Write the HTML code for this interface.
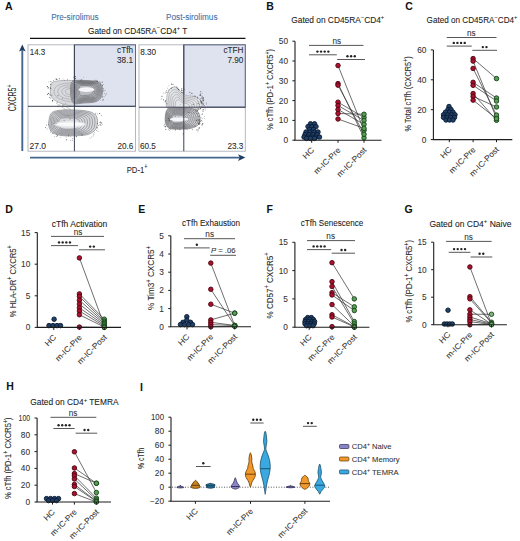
<!DOCTYPE html>
<html><head><meta charset="utf-8"><title>Figure</title>
<style>html,body{margin:0;padding:0;background:#fff;width:520px;height:541px;overflow:hidden;font-family:"Liberation Sans",sans-serif;}</style>
</head><body>
<svg width="520" height="541" viewBox="0 0 520 541" style="position:absolute;left:0;top:0">
<rect width="520" height="541" fill="#ffffff"/>
<g font-family='"Liberation Sans", sans-serif'>
<text x="5.00" y="9.80" font-size="10.5" text-anchor="start" font-weight="bold" fill="#111" stroke="#111" stroke-width="0" >A</text>
<text x="51.20" y="19.90" font-size="8.4" text-anchor="start" font-weight="normal" fill="#4470a8" stroke="#4470a8" stroke-width="0.08" textLength="47.5" lengthAdjust="spacingAndGlyphs" >Pre-sirolimus</text>
<text x="166.00" y="19.90" font-size="8.4" text-anchor="start" font-weight="normal" fill="#4470a8" stroke="#4470a8" stroke-width="0.08" textLength="51.5" lengthAdjust="spacingAndGlyphs" >Post-sirolimus</text>
<text x="88.00" y="33.50" font-size="8.6" text-anchor="start" font-weight="normal" fill="#222" stroke="#222" stroke-width="0.08" textLength="99.3" lengthAdjust="spacingAndGlyphs" >Gated on CD45RA<tspan font-size="6.02" dy="-3.27">−</tspan><tspan dy="3.27">CD4</tspan><tspan font-size="6.02" dy="-3.27">+</tspan><tspan dy="3.27"> T</tspan></text>
<line x1="30.00" y1="38.40" x2="245.50" y2="38.40" stroke="#111" stroke-width="1.2" />
<rect x="74.4" y="44.8" width="61.099999999999994" height="61.5" fill="#dfe3ef"/>
<rect x="28" y="44.8" width="107.5" height="106.39999999999999" fill="none" stroke="#aeb1b8" stroke-width="0.9"/>
<rect x="74.4" y="44.8" width="61.099999999999994" height="61.5" fill="none" stroke="#5a6a86" stroke-width="1.0"/>
<rect x="183.8" y="44.8" width="61.5" height="62.400000000000006" fill="#dfe3ef"/>
<rect x="139" y="44.8" width="106.30000000000001" height="106.39999999999999" fill="none" stroke="#aeb1b8" stroke-width="0.9"/>
<rect x="183.8" y="44.8" width="61.5" height="62.400000000000006" fill="none" stroke="#5a6a86" stroke-width="1.0"/>
<path d="M75 80.6 C66 80.2 57 80.4 53 82 C50 84.5 50 90 50.6 94 C51.5 99 56 101.5 62 103.8 C66 105.3 70 106 75 106 Z" fill="#d8d9dd" stroke="#7d7e83" stroke-width="0.5"/>
<path d="M75 82.9 C60.5 82.5 54.0 85.8 54.0 91.5 C54.0 98.1 62.2 101.3 75 102.2" fill="none" stroke="#8d8e93" stroke-width="0.45"/>
<path d="M75 84.8 C63.0 84.5 57.9 87.0 57.9 91.5 C57.9 96.6 64.3 99.2 75 99.8" fill="none" stroke="#8d8e93" stroke-width="0.45"/>
<path d="M75 86.7 C65.6 86.4 61.9 88.3 61.9 91.5 C61.9 95.2 66.5 97.0 75 97.5" fill="none" stroke="#8d8e93" stroke-width="0.45"/>
<path d="M75 88.3 C67.8 88.2 65.4 89.4 65.4 91.5 C65.4 93.9 68.4 95.1 75 95.4" fill="none" stroke="#8d8e93" stroke-width="0.45"/>
<path d="M73.00 81.00 C75.42 79.75 81.00 80.42 85.00 80.50 C89.00 80.58 94.25 80.75 97.00 81.50 C99.75 82.25 100.53 83.42 101.50 85.00 C102.47 86.58 102.92 88.83 102.80 91.00 C102.68 93.17 102.10 96.17 100.80 98.00 C99.50 99.83 97.80 101.17 95.00 102.00 C92.20 102.83 87.50 102.75 84.00 103.00 C80.50 103.25 76.17 104.50 74.00 103.50 C71.83 102.50 71.58 99.58 71.00 97.00 C70.42 94.42 70.17 90.67 70.50 88.00 C70.83 85.33 70.58 82.25 73.00 81.00 Z" fill="#bcbdc2" stroke="none"/>
<path d="M73.00 81.00 C75.42 79.75 81.00 80.42 85.00 80.50 C89.00 80.58 94.25 80.75 97.00 81.50 C99.75 82.25 100.53 83.42 101.50 85.00 C102.47 86.58 102.92 88.83 102.80 91.00 C102.68 93.17 102.10 96.17 100.80 98.00 C99.50 99.83 97.80 101.17 95.00 102.00 C92.20 102.83 87.50 102.75 84.00 103.00 C80.50 103.25 76.17 104.50 74.00 103.50 C71.83 102.50 71.58 99.58 71.00 97.00 C70.42 94.42 70.17 90.67 70.50 88.00 C70.83 85.33 70.58 82.25 73.00 81.00 Z" fill="none" stroke="#4a4b50" stroke-width="0.45"/>
<path d="M73.91 81.59 C76.16 80.43 81.35 81.05 85.07 81.13 C88.79 81.21 93.67 81.36 96.23 82.06 C98.79 82.76 99.52 83.84 100.42 85.31 C101.31 86.79 101.73 88.88 101.62 90.89 C101.52 92.91 100.97 95.70 99.76 97.41 C98.55 99.11 96.97 100.35 94.37 101.12 C91.77 101.90 87.39 101.82 84.14 102.06 C80.89 102.29 76.86 103.45 74.84 102.52 C72.83 101.59 72.59 98.88 72.05 96.47 C71.51 94.07 71.27 90.59 71.58 88.11 C71.89 85.62 71.66 82.76 73.91 81.59 Z" fill="none" stroke="#4a4b50" stroke-width="0.45"/>
<path d="M74.82 82.19 C76.90 81.11 81.70 81.69 85.14 81.76 C88.58 81.83 93.09 81.98 95.46 82.62 C97.82 83.27 98.50 84.27 99.33 85.63 C100.16 86.99 100.55 88.93 100.45 90.79 C100.35 92.65 99.85 95.23 98.73 96.81 C97.61 98.39 96.15 99.53 93.74 100.25 C91.33 100.97 87.29 100.89 84.28 101.11 C81.27 101.33 77.54 102.40 75.68 101.54 C73.82 100.68 73.60 98.17 73.10 95.95 C72.60 93.73 72.38 90.50 72.67 88.21 C72.96 85.92 72.74 83.27 74.82 82.19 Z" fill="none" stroke="#4a4b50" stroke-width="0.45"/>
<path d="M75.60 82.70 C77.53 81.70 82.00 82.23 85.20 82.30 C88.40 82.37 92.60 82.50 94.80 83.10 C97.00 83.70 97.63 84.63 98.40 85.90 C99.17 87.17 99.53 88.97 99.44 90.70 C99.35 92.43 98.88 94.83 97.84 96.30 C96.80 97.77 95.44 98.83 93.20 99.50 C90.96 100.17 87.20 100.10 84.40 100.30 C81.60 100.50 78.13 101.50 76.40 100.70 C74.67 99.90 74.47 97.57 74.00 95.50 C73.53 93.43 73.33 90.43 73.60 88.30 C73.87 86.17 73.67 83.70 75.60 82.70 Z" fill="none" stroke="#4a4b50" stroke-width="0.45"/>
<path d="M76.38 83.21 C78.17 82.28 82.30 82.78 85.26 82.84 C88.22 82.90 92.11 83.03 94.14 83.58 C96.17 84.13 96.75 85.00 97.47 86.17 C98.19 87.34 98.52 89.01 98.43 90.61 C98.35 92.21 97.91 94.43 96.95 95.79 C95.99 97.15 94.73 98.13 92.66 98.75 C90.59 99.37 87.11 99.30 84.52 99.49 C81.93 99.67 78.72 100.60 77.12 99.86 C75.52 99.12 75.33 96.96 74.90 95.05 C74.47 93.14 74.28 90.36 74.53 88.39 C74.78 86.42 74.59 84.13 76.38 83.21 Z" fill="none" stroke="#4a4b50" stroke-width="0.45"/>
<path d="M77.16 83.72 C78.80 82.87 82.60 83.32 85.32 83.38 C88.04 83.44 91.61 83.55 93.48 84.06 C95.35 84.57 95.88 85.36 96.54 86.44 C97.20 87.52 97.50 89.05 97.42 90.52 C97.34 91.99 96.95 94.03 96.06 95.28 C95.18 96.53 94.02 97.43 92.12 98.00 C90.22 98.57 87.02 98.51 84.64 98.68 C82.26 98.85 79.31 99.70 77.84 99.02 C76.37 98.34 76.20 96.36 75.80 94.60 C75.40 92.84 75.23 90.29 75.46 88.48 C75.69 86.67 75.52 84.57 77.16 83.72 Z" fill="none" stroke="#4a4b50" stroke-width="0.45"/>
<path d="M78.07 84.31 C79.54 83.55 82.95 83.96 85.39 84.01 C87.83 84.06 91.03 84.16 92.71 84.62 C94.39 85.08 94.87 85.79 95.45 86.75 C96.04 87.72 96.32 89.09 96.25 90.42 C96.18 91.74 95.82 93.57 95.03 94.69 C94.23 95.80 93.20 96.62 91.49 97.12 C89.78 97.63 86.91 97.58 84.78 97.73 C82.65 97.89 80.00 98.65 78.68 98.04 C77.36 97.43 77.21 95.65 76.85 94.08 C76.49 92.50 76.34 90.21 76.55 88.58 C76.75 86.96 76.60 85.08 78.07 84.31 Z" fill="none" stroke="#4a4b50" stroke-width="0.45"/>
<path d="M79.11 85.00 C80.39 84.33 83.35 84.69 85.47 84.73 C87.59 84.77 90.37 84.86 91.83 85.26 C93.29 85.66 93.70 86.28 94.22 87.11 C94.73 87.95 94.97 89.15 94.90 90.30 C94.84 91.44 94.53 93.03 93.84 94.00 C93.16 94.98 92.25 95.68 90.77 96.12 C89.29 96.57 86.80 96.52 84.94 96.66 C83.08 96.79 80.79 97.45 79.64 96.92 C78.49 96.39 78.36 94.84 78.05 93.47 C77.74 92.11 77.61 90.12 77.78 88.70 C77.96 87.29 77.83 85.66 79.11 85.00 Z" fill="none" stroke="#4a4b50" stroke-width="0.45"/>
<path d="M80.28 85.76 C81.34 85.21 83.80 85.50 85.56 85.54 C87.32 85.58 89.63 85.65 90.84 85.98 C92.05 86.31 92.39 86.82 92.82 87.52 C93.25 88.22 93.44 89.21 93.39 90.16 C93.34 91.11 93.08 92.43 92.51 93.24 C91.94 94.05 91.19 94.63 89.96 95.00 C88.73 95.37 86.66 95.33 85.12 95.44 C83.58 95.55 81.67 96.10 80.72 95.66 C79.77 95.22 79.66 93.94 79.40 92.80 C79.14 91.66 79.03 90.01 79.18 88.84 C79.33 87.67 79.22 86.31 80.28 85.76 Z" fill="none" stroke="#4a4b50" stroke-width="0.45"/>
<ellipse cx="86.5" cy="89.6" rx="8" ry="2.3" fill="#f6f6f8"/>
<path d="M49.00 120.00 C49.50 117.58 49.83 114.17 52.00 112.50 C54.17 110.83 58.00 110.42 62.00 110.00 C66.00 109.58 71.50 109.75 76.00 110.00 C80.50 110.25 85.67 110.58 89.00 111.50 C92.33 112.42 94.58 113.67 96.00 115.50 C97.42 117.33 97.58 120.17 97.50 122.50 C97.42 124.83 97.08 127.50 95.50 129.50 C93.92 131.50 91.42 133.45 88.00 134.50 C84.58 135.55 79.50 135.63 75.00 135.80 C70.50 135.97 64.75 136.05 61.00 135.50 C57.25 134.95 54.50 133.92 52.50 132.50 C50.50 131.08 49.58 129.08 49.00 127.00 C48.42 124.92 48.50 122.42 49.00 120.00 Z" fill="#d8d9dd" stroke="none"/>
<path d="M49.00 120.00 C49.50 117.58 49.83 114.17 52.00 112.50 C54.17 110.83 58.00 110.42 62.00 110.00 C66.00 109.58 71.50 109.75 76.00 110.00 C80.50 110.25 85.67 110.58 89.00 111.50 C92.33 112.42 94.58 113.67 96.00 115.50 C97.42 117.33 97.58 120.17 97.50 122.50 C97.42 124.83 97.08 127.50 95.50 129.50 C93.92 131.50 91.42 133.45 88.00 134.50 C84.58 135.55 79.50 135.63 75.00 135.80 C70.50 135.97 64.75 136.05 61.00 135.50 C57.25 134.95 54.50 133.92 52.50 132.50 C50.50 131.08 49.58 129.08 49.00 127.00 C48.42 124.92 48.50 122.42 49.00 120.00 Z" fill="none" stroke="#55565b" stroke-width="0.45"/>
<path d="M50.36 120.32 C50.82 118.10 51.13 114.95 53.12 113.42 C55.11 111.89 58.64 111.50 62.32 111.12 C66.00 110.74 71.06 110.89 75.20 111.12 C79.34 111.35 84.09 111.66 87.16 112.50 C90.23 113.34 92.30 114.49 93.60 116.18 C94.90 117.87 95.06 120.47 94.98 122.62 C94.90 124.77 94.60 127.22 93.14 129.06 C91.68 130.90 89.38 132.69 86.24 133.66 C83.10 134.63 78.42 134.70 74.28 134.86 C70.14 135.01 64.85 135.09 61.40 134.58 C57.95 134.07 55.42 133.12 53.58 131.82 C51.74 130.52 50.90 128.68 50.36 126.76 C49.82 124.84 49.90 122.54 50.36 120.32 Z" fill="none" stroke="#55565b" stroke-width="0.45"/>
<path d="M51.72 120.64 C52.14 118.61 52.42 115.74 54.24 114.34 C56.06 112.94 59.28 112.59 62.64 112.24 C66.00 111.89 70.62 112.03 74.40 112.24 C78.18 112.45 82.52 112.73 85.32 113.50 C88.12 114.27 90.01 115.32 91.20 116.86 C92.39 118.40 92.53 120.78 92.46 122.74 C92.39 124.70 92.11 126.94 90.78 128.62 C89.45 130.30 87.35 131.94 84.48 132.82 C81.61 133.70 77.34 133.77 73.56 133.91 C69.78 134.05 64.95 134.12 61.80 133.66 C58.65 133.20 56.34 132.33 54.66 131.14 C52.98 129.95 52.21 128.27 51.72 126.52 C51.23 124.77 51.30 122.67 51.72 120.64 Z" fill="none" stroke="#55565b" stroke-width="0.45"/>
<path d="M53.08 120.96 C53.46 119.12 53.71 116.53 55.36 115.26 C57.01 113.99 59.92 113.68 62.96 113.36 C66.00 113.04 70.18 113.17 73.60 113.36 C77.02 113.55 80.95 113.80 83.48 114.50 C86.01 115.20 87.72 116.15 88.80 117.54 C89.88 118.93 90.00 121.09 89.94 122.86 C89.88 124.63 89.62 126.66 88.42 128.18 C87.22 129.70 85.32 131.18 82.72 131.98 C80.12 132.78 76.26 132.84 72.84 132.97 C69.42 133.09 65.05 133.16 62.20 132.74 C59.35 132.32 57.26 131.54 55.74 130.46 C54.22 129.38 53.52 127.86 53.08 126.28 C52.64 124.70 52.70 122.80 53.08 120.96 Z" fill="none" stroke="#55565b" stroke-width="0.45"/>
<path d="M54.44 121.28 C54.78 119.64 55.01 117.31 56.48 116.18 C57.95 115.05 60.56 114.76 63.28 114.48 C66.00 114.20 69.74 114.31 72.80 114.48 C75.86 114.65 79.37 114.88 81.64 115.50 C83.91 116.12 85.44 116.97 86.40 118.22 C87.36 119.47 87.48 121.39 87.42 122.98 C87.36 124.57 87.14 126.38 86.06 127.74 C84.98 129.10 83.28 130.43 80.96 131.14 C78.64 131.85 75.18 131.91 72.12 132.02 C69.06 132.14 65.15 132.19 62.60 131.82 C60.05 131.45 58.18 130.74 56.82 129.78 C55.46 128.82 54.84 127.46 54.44 126.04 C54.04 124.62 54.10 122.92 54.44 121.28 Z" fill="none" stroke="#55565b" stroke-width="0.45"/>
<path d="M55.80 121.60 C56.10 120.15 56.30 118.10 57.60 117.10 C58.90 116.10 61.20 115.85 63.60 115.60 C66.00 115.35 69.30 115.45 72.00 115.60 C74.70 115.75 77.80 115.95 79.80 116.50 C81.80 117.05 83.15 117.80 84.00 118.90 C84.85 120.00 84.95 121.70 84.90 123.10 C84.85 124.50 84.65 126.10 83.70 127.30 C82.75 128.50 81.25 129.67 79.20 130.30 C77.15 130.93 74.10 130.98 71.40 131.08 C68.70 131.18 65.25 131.23 63.00 130.90 C60.75 130.57 59.10 129.95 57.90 129.10 C56.70 128.25 56.15 127.05 55.80 125.80 C55.45 124.55 55.50 123.05 55.80 121.60 Z" fill="none" stroke="#55565b" stroke-width="0.45"/>
<path d="M57.16 121.92 C57.42 120.66 57.59 118.89 58.72 118.02 C59.85 117.15 61.84 116.94 63.92 116.72 C66.00 116.50 68.86 116.59 71.20 116.72 C73.54 116.85 76.23 117.02 77.96 117.50 C79.69 117.98 80.86 118.63 81.60 119.58 C82.34 120.53 82.42 122.01 82.38 123.22 C82.34 124.43 82.16 125.82 81.34 126.86 C80.52 127.90 79.22 128.91 77.44 129.46 C75.66 130.01 73.02 130.05 70.68 130.14 C68.34 130.22 65.35 130.27 63.40 129.98 C61.45 129.69 60.02 129.16 58.98 128.42 C57.94 127.68 57.46 126.64 57.16 125.56 C56.86 124.48 56.90 123.18 57.16 121.92 Z" fill="none" stroke="#55565b" stroke-width="0.45"/>
<path d="M58.52 122.24 C58.74 121.18 58.89 119.67 59.84 118.94 C60.79 118.21 62.48 118.02 64.24 117.84 C66.00 117.66 68.42 117.73 70.40 117.84 C72.38 117.95 74.65 118.10 76.12 118.50 C77.59 118.90 78.58 119.45 79.20 120.26 C79.82 121.07 79.90 122.31 79.86 123.34 C79.82 124.37 79.68 125.54 78.98 126.42 C78.28 127.30 77.18 128.16 75.68 128.62 C74.18 129.08 71.94 129.12 69.96 129.19 C67.98 129.27 65.45 129.30 63.80 129.06 C62.15 128.82 60.94 128.36 60.06 127.74 C59.18 127.12 58.78 126.24 58.52 125.32 C58.26 124.40 58.30 123.30 58.52 122.24 Z" fill="none" stroke="#55565b" stroke-width="0.45"/>
<ellipse cx="70" cy="124.3" rx="16" ry="3.4" fill="#ececee" fill-opacity="0.8"/><ellipse cx="70" cy="124.3" rx="14" ry="1.7" fill="#fafafa"/>
<path d="M56 103 C60 106 64 108 66 110 M62 104.5 C66 106.5 69 108.5 71 110" fill="none" stroke="#8a8b90" stroke-width="0.45"/>
<path d="M167.50 108.50 C165.58 106.75 166.42 102.75 166.50 100.00 C166.58 97.25 167.08 94.08 168.00 92.00 C168.92 89.92 170.50 88.17 172.00 87.50 C173.50 86.83 175.50 87.25 177.00 88.00 C178.50 88.75 179.50 90.75 181.00 92.00 C182.50 93.25 183.83 94.75 186.00 95.50 C188.17 96.25 191.67 95.83 194.00 96.50 C196.33 97.17 198.67 98.17 200.00 99.50 C201.33 100.83 202.00 102.92 202.00 104.50 C202.00 106.08 202.00 108.00 200.00 109.00 C198.00 110.00 193.67 110.25 190.00 110.50 C186.33 110.75 181.75 110.83 178.00 110.50 C174.25 110.17 169.42 110.25 167.50 108.50 Z" fill="#e4e5e9" stroke="none"/>
<path d="M167.50 108.50 C165.58 106.75 166.42 102.75 166.50 100.00 C166.58 97.25 167.08 94.08 168.00 92.00 C168.92 89.92 170.50 88.17 172.00 87.50 C173.50 86.83 175.50 87.25 177.00 88.00 C178.50 88.75 179.50 90.75 181.00 92.00 C182.50 93.25 183.83 94.75 186.00 95.50 C188.17 96.25 191.67 95.83 194.00 96.50 C196.33 97.17 198.67 98.17 200.00 99.50 C201.33 100.83 202.00 102.92 202.00 104.50 C202.00 106.08 202.00 108.00 200.00 109.00 C198.00 110.00 193.67 110.25 190.00 110.50 C186.33 110.75 181.75 110.83 178.00 110.50 C174.25 110.17 169.42 110.25 167.50 108.50 Z" fill="none" stroke="#7c7d82" stroke-width="0.42"/>
<path d="M169.12 108.44 C167.43 106.90 168.17 103.38 168.24 100.96 C168.31 98.54 168.75 95.75 169.56 93.92 C170.37 92.09 171.76 90.55 173.08 89.96 C174.40 89.37 176.16 89.74 177.48 90.40 C178.80 91.06 179.68 92.82 181.00 93.92 C182.32 95.02 183.49 96.34 185.40 97.00 C187.31 97.66 190.39 97.29 192.44 97.88 C194.49 98.47 196.55 99.35 197.72 100.52 C198.89 101.69 199.48 103.53 199.48 104.92 C199.48 106.31 199.48 108.00 197.72 108.88 C195.96 109.76 192.15 109.98 188.92 110.20 C185.69 110.42 181.66 110.49 178.36 110.20 C175.06 109.91 170.81 109.98 169.12 108.44 Z" fill="none" stroke="#7c7d82" stroke-width="0.42"/>
<path d="M170.74 108.38 C169.28 107.05 169.92 104.01 169.98 101.92 C170.04 99.83 170.42 97.42 171.12 95.84 C171.82 94.26 173.02 92.93 174.16 92.42 C175.30 91.91 176.82 92.23 177.96 92.80 C179.10 93.37 179.86 94.89 181.00 95.84 C182.14 96.79 183.15 97.93 184.80 98.50 C186.45 99.07 189.11 98.75 190.88 99.26 C192.65 99.77 194.43 100.53 195.44 101.54 C196.45 102.55 196.96 104.14 196.96 105.34 C196.96 106.54 196.96 108.00 195.44 108.76 C193.92 109.52 190.63 109.71 187.84 109.90 C185.05 110.09 181.57 110.15 178.72 109.90 C175.87 109.65 172.20 109.71 170.74 108.38 Z" fill="none" stroke="#7c7d82" stroke-width="0.42"/>
<path d="M172.36 108.32 C171.13 107.20 171.67 104.64 171.72 102.88 C171.77 101.12 172.09 99.09 172.68 97.76 C173.27 96.43 174.28 95.31 175.24 94.88 C176.20 94.45 177.48 94.72 178.44 95.20 C179.40 95.68 180.04 96.96 181.00 97.76 C181.96 98.56 182.81 99.52 184.20 100.00 C185.59 100.48 187.83 100.21 189.32 100.64 C190.81 101.07 192.31 101.71 193.16 102.56 C194.01 103.41 194.44 104.75 194.44 105.76 C194.44 106.77 194.44 108.00 193.16 108.64 C191.88 109.28 189.11 109.44 186.76 109.60 C184.41 109.76 181.48 109.81 179.08 109.60 C176.68 109.39 173.59 109.44 172.36 108.32 Z" fill="none" stroke="#7c7d82" stroke-width="0.42"/>
<path d="M173.98 108.26 C172.98 107.35 173.42 105.27 173.46 103.84 C173.50 102.41 173.76 100.76 174.24 99.68 C174.72 98.60 175.54 97.69 176.32 97.34 C177.10 96.99 178.14 97.21 178.92 97.60 C179.70 97.99 180.22 99.03 181.00 99.68 C181.78 100.33 182.47 101.11 183.60 101.50 C184.73 101.89 186.55 101.67 187.76 102.02 C188.97 102.37 190.19 102.89 190.88 103.58 C191.57 104.27 191.92 105.36 191.92 106.18 C191.92 107.00 191.92 108.00 190.88 108.52 C189.84 109.04 187.59 109.17 185.68 109.30 C183.77 109.43 181.39 109.47 179.44 109.30 C177.49 109.13 174.98 109.17 173.98 108.26 Z" fill="none" stroke="#7c7d82" stroke-width="0.42"/>
<path d="M175.60 108.20 C174.83 107.50 175.17 105.90 175.20 104.80 C175.23 103.70 175.43 102.43 175.80 101.60 C176.17 100.77 176.80 100.07 177.40 99.80 C178.00 99.53 178.80 99.70 179.40 100.00 C180.00 100.30 180.40 101.10 181.00 101.60 C181.60 102.10 182.13 102.70 183.00 103.00 C183.87 103.30 185.27 103.13 186.20 103.40 C187.13 103.67 188.07 104.07 188.60 104.60 C189.13 105.13 189.40 105.97 189.40 106.60 C189.40 107.23 189.40 108.00 188.60 108.40 C187.80 108.80 186.07 108.90 184.60 109.00 C183.13 109.10 181.30 109.13 179.80 109.00 C178.30 108.87 176.37 108.90 175.60 108.20 Z" fill="none" stroke="#7c7d82" stroke-width="0.42"/>
<path d="M166.00 112.00 C166.62 109.77 167.00 109.33 169.00 108.60 C171.00 107.87 174.50 107.67 178.00 107.60 C181.50 107.53 186.75 107.55 190.00 108.20 C193.25 108.85 195.83 109.87 197.50 111.50 C199.17 113.13 199.83 115.83 200.00 118.00 C200.17 120.17 200.00 122.78 198.50 124.50 C197.00 126.22 194.25 127.52 191.00 128.30 C187.75 129.08 182.67 129.22 179.00 129.20 C175.33 129.18 171.28 129.40 169.00 128.20 C166.72 127.00 165.80 124.70 165.30 122.00 C164.80 119.30 165.38 114.23 166.00 112.00 Z" fill="#d2d3d7" stroke="none"/>
<path d="M166.00 112.00 C166.62 109.77 167.00 109.33 169.00 108.60 C171.00 107.87 174.50 107.67 178.00 107.60 C181.50 107.53 186.75 107.55 190.00 108.20 C193.25 108.85 195.83 109.87 197.50 111.50 C199.17 113.13 199.83 115.83 200.00 118.00 C200.17 120.17 200.00 122.78 198.50 124.50 C197.00 126.22 194.25 127.52 191.00 128.30 C187.75 129.08 182.67 129.22 179.00 129.20 C175.33 129.18 171.28 129.40 169.00 128.20 C166.72 127.00 165.80 124.70 165.30 122.00 C164.80 119.30 165.38 114.23 166.00 112.00 Z" fill="none" stroke="#4a4b50" stroke-width="0.5"/>
<path d="M166.76 112.58 C167.33 110.52 167.68 110.12 169.52 109.45 C171.36 108.77 174.58 108.59 177.80 108.53 C181.02 108.47 185.85 108.48 188.84 109.08 C191.83 109.68 194.21 110.61 195.74 112.12 C197.27 113.62 197.89 116.10 198.04 118.10 C198.19 120.09 198.04 122.50 196.66 124.08 C195.28 125.66 192.75 126.85 189.76 127.57 C186.77 128.29 182.09 128.42 178.72 128.40 C175.35 128.38 171.62 128.58 169.52 127.48 C167.42 126.38 166.58 124.26 166.12 121.78 C165.66 119.29 166.19 114.63 166.76 112.58 Z" fill="none" stroke="#4a4b50" stroke-width="0.5"/>
<path d="M167.52 113.15 C168.04 111.28 168.36 110.91 170.04 110.30 C171.72 109.68 174.66 109.51 177.60 109.46 C180.54 109.40 184.95 109.41 187.68 109.96 C190.41 110.51 192.58 111.36 193.98 112.73 C195.38 114.10 195.94 116.37 196.08 118.19 C196.22 120.01 196.08 122.21 194.82 123.65 C193.56 125.09 191.25 126.19 188.52 126.84 C185.79 127.50 181.52 127.61 178.44 127.60 C175.36 127.59 171.96 127.77 170.04 126.76 C168.12 125.75 167.35 123.82 166.93 121.55 C166.51 119.28 167.00 115.03 167.52 113.15 Z" fill="none" stroke="#4a4b50" stroke-width="0.5"/>
<path d="M168.28 113.73 C168.75 112.03 169.04 111.70 170.56 111.14 C172.08 110.59 174.74 110.43 177.40 110.38 C180.06 110.33 184.05 110.35 186.52 110.84 C188.99 111.33 190.95 112.11 192.22 113.35 C193.49 114.59 193.99 116.64 194.12 118.29 C194.25 119.93 194.12 121.92 192.98 123.23 C191.84 124.53 189.75 125.52 187.28 126.12 C184.81 126.71 180.95 126.81 178.16 126.80 C175.37 126.79 172.30 126.95 170.56 126.04 C168.82 125.13 168.13 123.38 167.75 121.33 C167.37 119.28 167.81 115.43 168.28 113.73 Z" fill="none" stroke="#4a4b50" stroke-width="0.5"/>
<path d="M169.04 114.30 C169.46 112.79 169.72 112.49 171.08 111.99 C172.44 111.49 174.82 111.36 177.20 111.31 C179.58 111.27 183.15 111.28 185.36 111.72 C187.57 112.16 189.33 112.85 190.46 113.96 C191.59 115.07 192.05 116.91 192.16 118.38 C192.27 119.86 192.16 121.64 191.14 122.80 C190.12 123.97 188.25 124.86 186.04 125.39 C183.83 125.92 180.37 126.01 177.88 126.00 C175.39 125.99 172.63 126.14 171.08 125.32 C169.53 124.50 168.90 122.94 168.56 121.10 C168.22 119.27 168.62 115.82 169.04 114.30 Z" fill="none" stroke="#4a4b50" stroke-width="0.5"/>
<path d="M169.80 114.88 C170.17 113.54 170.40 113.28 171.60 112.84 C172.80 112.40 174.90 112.28 177.00 112.24 C179.10 112.20 182.25 112.21 184.20 112.60 C186.15 112.99 187.70 113.60 188.70 114.58 C189.70 115.56 190.10 117.18 190.20 118.48 C190.30 119.78 190.20 121.35 189.30 122.38 C188.40 123.41 186.75 124.19 184.80 124.66 C182.85 125.13 179.80 125.21 177.60 125.20 C175.40 125.19 172.97 125.32 171.60 124.60 C170.23 123.88 169.68 122.50 169.38 120.88 C169.08 119.26 169.43 116.22 169.80 114.88 Z" fill="none" stroke="#4a4b50" stroke-width="0.5"/>
<path d="M170.56 115.46 C170.88 114.29 171.08 114.07 172.12 113.69 C173.16 113.31 174.98 113.20 176.80 113.17 C178.62 113.13 181.35 113.14 183.04 113.48 C184.73 113.82 186.07 114.35 186.94 115.20 C187.81 116.05 188.15 117.45 188.24 118.58 C188.33 119.70 188.24 121.06 187.46 121.96 C186.68 122.85 185.25 123.52 183.56 123.93 C181.87 124.34 179.23 124.41 177.32 124.40 C175.41 124.39 173.31 124.50 172.12 123.88 C170.93 123.26 170.46 122.06 170.20 120.66 C169.94 119.25 170.24 116.62 170.56 115.46 Z" fill="none" stroke="#4a4b50" stroke-width="0.5"/>
<path d="M171.32 116.03 C171.59 115.05 171.76 114.86 172.64 114.54 C173.52 114.21 175.06 114.13 176.60 114.10 C178.14 114.07 180.45 114.07 181.88 114.36 C183.31 114.65 184.45 115.09 185.18 115.81 C185.91 116.53 186.21 117.72 186.28 118.67 C186.35 119.63 186.28 120.78 185.62 121.53 C184.96 122.29 183.75 122.86 182.32 123.20 C180.89 123.55 178.65 123.61 177.04 123.60 C175.43 123.59 173.64 123.69 172.64 123.16 C171.64 122.63 171.23 121.62 171.01 120.43 C170.79 119.24 171.05 117.01 171.32 116.03 Z" fill="none" stroke="#4a4b50" stroke-width="0.5"/>
<path d="M172.08 116.61 C172.30 115.80 172.44 115.65 173.16 115.38 C173.88 115.12 175.14 115.05 176.40 115.02 C177.66 115.00 179.55 115.01 180.72 115.24 C181.89 115.47 182.82 115.84 183.42 116.43 C184.02 117.02 184.26 117.99 184.32 118.77 C184.38 119.55 184.32 120.49 183.78 121.11 C183.24 121.73 182.25 122.19 181.08 122.48 C179.91 122.76 178.08 122.81 176.76 122.80 C175.44 122.79 173.98 122.87 173.16 122.44 C172.34 122.01 172.01 121.18 171.83 120.21 C171.65 119.24 171.86 117.41 172.08 116.61 Z" fill="none" stroke="#4a4b50" stroke-width="0.5"/>
<ellipse cx="179" cy="119.3" rx="9.5" ry="1.8" fill="#f6f6f8"/>
<circle cx="195.6" cy="96.4" r="0.35" fill="#555555"/><circle cx="171.2" cy="88.2" r="0.55" fill="#555555"/><circle cx="167.0" cy="92.5" r="0.35" fill="#555555"/><circle cx="197.6" cy="97.9" r="0.55" fill="#555555"/><circle cx="197.5" cy="96.8" r="0.35" fill="#555555"/><circle cx="165.1" cy="101.2" r="0.45" fill="#555555"/><circle cx="168.2" cy="92.2" r="0.35" fill="#555555"/><circle cx="181.7" cy="90.8" r="0.55" fill="#555555"/><circle cx="182.5" cy="90.2" r="0.35" fill="#555555"/><circle cx="180.5" cy="104.5" r="0.35" fill="#555555"/><circle cx="203.2" cy="109.5" r="0.55" fill="#555555"/><circle cx="177.0" cy="87.8" r="0.45" fill="#555555"/><circle cx="203.5" cy="103.3" r="0.45" fill="#555555"/><circle cx="177.6" cy="88.1" r="0.35" fill="#555555"/><circle cx="167.7" cy="88.1" r="0.45" fill="#555555"/><circle cx="206.2" cy="102.5" r="0.35" fill="#555555"/><circle cx="205.0" cy="108.7" r="0.35" fill="#555555"/><circle cx="206.3" cy="103.4" r="0.35" fill="#555555"/><circle cx="205.2" cy="109.9" r="0.45" fill="#555555"/><circle cx="194.9" cy="96.1" r="0.55" fill="#555555"/><circle cx="200.2" cy="99.9" r="0.45" fill="#555555"/><circle cx="201.3" cy="103.0" r="0.55" fill="#555555"/><circle cx="183.1" cy="88.4" r="0.45" fill="#555555"/><circle cx="184.4" cy="89.2" r="0.45" fill="#555555"/><circle cx="166.1" cy="92.1" r="0.55" fill="#555555"/><circle cx="169.1" cy="89.4" r="0.45" fill="#555555"/><circle cx="174.2" cy="86.4" r="0.45" fill="#555555"/><circle cx="166.7" cy="90.6" r="0.45" fill="#555555"/><circle cx="172.5" cy="84.3" r="0.45" fill="#555555"/><circle cx="203.8" cy="100.2" r="0.45" fill="#555555"/><circle cx="177.2" cy="88.1" r="0.35" fill="#555555"/><circle cx="173.8" cy="84.4" r="0.35" fill="#555555"/><circle cx="182.2" cy="92.6" r="0.55" fill="#555555"/><circle cx="192.4" cy="96.0" r="0.35" fill="#555555"/><circle cx="203.0" cy="111.1" r="0.55" fill="#555555"/><circle cx="162.0" cy="96.3" r="0.55" fill="#555555"/><circle cx="203.0" cy="107.3" r="0.35" fill="#555555"/><circle cx="201.2" cy="102.6" r="0.35" fill="#555555"/><circle cx="178.6" cy="89.6" r="0.55" fill="#555555"/><circle cx="163.5" cy="99.7" r="0.55" fill="#555555"/><circle cx="168.9" cy="85.8" r="0.35" fill="#555555"/><circle cx="179.2" cy="90.1" r="0.45" fill="#555555"/><circle cx="193.4" cy="96.0" r="0.35" fill="#555555"/><circle cx="204.3" cy="105.5" r="0.45" fill="#555555"/><circle cx="181.3" cy="92.2" r="0.45" fill="#555555"/><circle cx="181.7" cy="90.0" r="0.55" fill="#555555"/><circle cx="161.2" cy="99.0" r="0.45" fill="#555555"/><circle cx="171.5" cy="84.1" r="0.55" fill="#555555"/><circle cx="189.8" cy="92.2" r="0.55" fill="#555555"/><circle cx="181.6" cy="88.8" r="0.45" fill="#555555"/><circle cx="176.1" cy="86.7" r="0.45" fill="#555555"/><circle cx="176.4" cy="87.0" r="0.35" fill="#555555"/><circle cx="177.5" cy="88.0" r="0.35" fill="#555555"/><circle cx="177.9" cy="88.7" r="0.35" fill="#555555"/><circle cx="165.1" cy="93.3" r="0.35" fill="#555555"/><circle cx="165.6" cy="100.9" r="0.55" fill="#555555"/><circle cx="195.5" cy="96.5" r="0.35" fill="#555555"/><circle cx="168.2" cy="90.7" r="0.35" fill="#555555"/><circle cx="206.3" cy="104.5" r="0.35" fill="#555555"/><circle cx="203.4" cy="104.7" r="0.55" fill="#555555"/><circle cx="171.1" cy="88.1" r="0.45" fill="#555555"/><circle cx="178.5" cy="89.4" r="0.55" fill="#555555"/><circle cx="191.9" cy="93.4" r="0.55" fill="#555555"/><circle cx="201.1" cy="98.4" r="0.35" fill="#555555"/><circle cx="172.6" cy="87.4" r="0.35" fill="#555555"/><circle cx="165.1" cy="102.2" r="0.35" fill="#555555"/><circle cx="166.9" cy="103.8" r="0.55" fill="#555555"/><circle cx="190.2" cy="94.8" r="0.35" fill="#555555"/><circle cx="163.5" cy="92.9" r="0.35" fill="#555555"/><circle cx="200.8" cy="108.1" r="0.35" fill="#555555"/>
<circle cx="193.2" cy="113.1" r="0.35" fill="#555555"/><circle cx="198.9" cy="127.9" r="0.45" fill="#555555"/><circle cx="199.0" cy="128.4" r="0.35" fill="#555555"/><circle cx="165.2" cy="126.4" r="0.55" fill="#555555"/><circle cx="195.8" cy="110.8" r="0.55" fill="#555555"/><circle cx="202.1" cy="121.1" r="0.35" fill="#555555"/><circle cx="179.0" cy="116.9" r="0.35" fill="#555555"/><circle cx="191.3" cy="113.1" r="0.45" fill="#555555"/><circle cx="168.8" cy="129.6" r="0.45" fill="#555555"/><circle cx="164.0" cy="125.3" r="0.35" fill="#555555"/><circle cx="177.9" cy="129.6" r="0.35" fill="#555555"/><circle cx="166.0" cy="120.7" r="0.35" fill="#555555"/><circle cx="194.0" cy="112.7" r="0.45" fill="#555555"/><circle cx="166.0" cy="129.2" r="0.35" fill="#555555"/><circle cx="165.2" cy="127.0" r="0.45" fill="#555555"/><circle cx="165.7" cy="129.5" r="0.45" fill="#555555"/><circle cx="169.3" cy="128.6" r="0.45" fill="#555555"/><circle cx="201.4" cy="120.4" r="0.45" fill="#555555"/><circle cx="201.2" cy="114.8" r="0.35" fill="#555555"/><circle cx="167.6" cy="126.4" r="0.35" fill="#555555"/><circle cx="164.7" cy="124.3" r="0.45" fill="#555555"/><circle cx="199.5" cy="124.4" r="0.35" fill="#555555"/><circle cx="180.0" cy="129.5" r="0.55" fill="#555555"/><circle cx="168.5" cy="118.6" r="0.55" fill="#555555"/><circle cx="187.1" cy="129.4" r="0.45" fill="#555555"/><circle cx="199.0" cy="116.4" r="0.55" fill="#555555"/><circle cx="185.7" cy="128.3" r="0.45" fill="#555555"/><circle cx="170.2" cy="129.7" r="0.35" fill="#555555"/><circle cx="204.3" cy="116.3" r="0.35" fill="#555555"/><circle cx="198.0" cy="113.4" r="0.35" fill="#555555"/><circle cx="197.0" cy="129.9" r="0.55" fill="#555555"/><circle cx="197.2" cy="110.5" r="0.55" fill="#555555"/><circle cx="169.6" cy="130.3" r="0.35" fill="#555555"/><circle cx="202.0" cy="125.2" r="0.45" fill="#555555"/><circle cx="197.9" cy="113.5" r="0.35" fill="#555555"/><circle cx="170.4" cy="118.2" r="0.35" fill="#555555"/><circle cx="198.4" cy="113.0" r="0.35" fill="#555555"/><circle cx="192.6" cy="129.8" r="0.45" fill="#555555"/><circle cx="175.4" cy="130.8" r="0.35" fill="#555555"/><circle cx="201.0" cy="117.4" r="0.35" fill="#555555"/><circle cx="202.2" cy="124.3" r="0.55" fill="#555555"/><circle cx="169.6" cy="119.3" r="0.55" fill="#555555"/><circle cx="204.2" cy="118.6" r="0.45" fill="#555555"/><circle cx="200.6" cy="108.6" r="0.55" fill="#555555"/><circle cx="200.3" cy="121.2" r="0.45" fill="#555555"/><circle cx="202.4" cy="114.0" r="0.55" fill="#555555"/><circle cx="183.3" cy="133.9" r="0.55" fill="#555555"/><circle cx="198.5" cy="129.9" r="0.45" fill="#555555"/><circle cx="202.8" cy="123.5" r="0.55" fill="#555555"/><circle cx="201.1" cy="120.3" r="0.35" fill="#555555"/><circle cx="169.5" cy="120.6" r="0.55" fill="#555555"/><circle cx="195.1" cy="126.1" r="0.55" fill="#555555"/><circle cx="175.2" cy="116.5" r="0.45" fill="#555555"/><circle cx="175.4" cy="129.7" r="0.45" fill="#555555"/><circle cx="202.1" cy="118.4" r="0.45" fill="#555555"/>
<circle cx="188.9" cy="112.4" r="0.55" fill="#555555"/><circle cx="197.9" cy="101.1" r="0.45" fill="#555555"/><circle cx="201.1" cy="106.6" r="0.45" fill="#555555"/><circle cx="201.5" cy="97.6" r="0.35" fill="#555555"/><circle cx="200.9" cy="107.2" r="0.45" fill="#555555"/><circle cx="200.6" cy="95.2" r="0.45" fill="#555555"/><circle cx="201.1" cy="95.5" r="0.35" fill="#555555"/><circle cx="197.9" cy="131.8" r="0.35" fill="#555555"/><circle cx="200.0" cy="95.2" r="0.55" fill="#555555"/><circle cx="199.1" cy="122.8" r="0.45" fill="#555555"/><circle cx="203.1" cy="100.7" r="0.35" fill="#555555"/><circle cx="203.2" cy="97.5" r="0.55" fill="#555555"/><circle cx="197.9" cy="119.8" r="0.55" fill="#555555"/><circle cx="201.5" cy="102.1" r="0.55" fill="#555555"/><circle cx="202.9" cy="98.8" r="0.55" fill="#555555"/><circle cx="200.1" cy="95.0" r="0.35" fill="#555555"/><circle cx="200.3" cy="94.2" r="0.35" fill="#555555"/><circle cx="199.5" cy="121.7" r="0.55" fill="#555555"/><circle cx="202.3" cy="96.8" r="0.45" fill="#555555"/><circle cx="201.0" cy="102.0" r="0.55" fill="#555555"/><circle cx="198.6" cy="124.2" r="0.55" fill="#555555"/><circle cx="202.4" cy="99.3" r="0.35" fill="#555555"/><circle cx="198.4" cy="103.0" r="0.35" fill="#555555"/><circle cx="199.2" cy="104.4" r="0.45" fill="#555555"/><circle cx="201.8" cy="96.0" r="0.35" fill="#555555"/><circle cx="199.0" cy="123.5" r="0.55" fill="#555555"/><circle cx="203.1" cy="100.6" r="0.55" fill="#555555"/><circle cx="197.8" cy="110.2" r="0.45" fill="#555555"/><circle cx="202.2" cy="93.3" r="0.35" fill="#555555"/><circle cx="198.4" cy="123.2" r="0.55" fill="#555555"/><circle cx="199.5" cy="123.8" r="0.35" fill="#555555"/><circle cx="199.7" cy="128.1" r="0.45" fill="#555555"/><circle cx="200.6" cy="100.7" r="0.55" fill="#555555"/><circle cx="200.1" cy="121.1" r="0.35" fill="#555555"/><circle cx="201.3" cy="101.6" r="0.55" fill="#555555"/><circle cx="196.9" cy="111.5" r="0.55" fill="#555555"/><circle cx="199.6" cy="120.4" r="0.45" fill="#555555"/><circle cx="203.3" cy="99.3" r="0.45" fill="#555555"/><circle cx="200.8" cy="91.8" r="0.55" fill="#555555"/><circle cx="196.2" cy="120.1" r="0.45" fill="#555555"/><circle cx="198.8" cy="109.4" r="0.45" fill="#555555"/><circle cx="200.9" cy="98.4" r="0.45" fill="#555555"/><circle cx="202.3" cy="102.9" r="0.35" fill="#555555"/><circle cx="198.6" cy="120.3" r="0.45" fill="#555555"/><circle cx="200.2" cy="123.1" r="0.45" fill="#555555"/><circle cx="199.0" cy="124.0" r="0.45" fill="#555555"/><circle cx="200.3" cy="94.0" r="0.55" fill="#555555"/><circle cx="202.1" cy="103.7" r="0.55" fill="#555555"/><circle cx="199.3" cy="106.4" r="0.45" fill="#555555"/><circle cx="203.0" cy="98.2" r="0.55" fill="#555555"/><circle cx="199.7" cy="119.6" r="0.55" fill="#555555"/><circle cx="196.6" cy="120.8" r="0.55" fill="#555555"/><circle cx="193.2" cy="104.2" r="0.55" fill="#555555"/><circle cx="202.8" cy="102.0" r="0.45" fill="#555555"/><circle cx="198.1" cy="103.2" r="0.55" fill="#555555"/><circle cx="198.1" cy="108.5" r="0.45" fill="#555555"/><circle cx="199.0" cy="123.0" r="0.55" fill="#555555"/><circle cx="203.2" cy="100.8" r="0.45" fill="#555555"/><circle cx="199.7" cy="127.5" r="0.45" fill="#555555"/><circle cx="196.8" cy="113.2" r="0.35" fill="#555555"/>
<circle cx="64.8" cy="80.2" r="0.35" fill="#555555"/><circle cx="103.3" cy="84.3" r="0.35" fill="#555555"/><circle cx="106.0" cy="94.5" r="0.35" fill="#555555"/><circle cx="106.2" cy="93.4" r="0.45" fill="#555555"/><circle cx="97.0" cy="81.4" r="0.55" fill="#555555"/><circle cx="73.2" cy="77.3" r="0.45" fill="#555555"/><circle cx="104.0" cy="96.5" r="0.45" fill="#555555"/><circle cx="48.6" cy="87.3" r="0.45" fill="#555555"/><circle cx="103.2" cy="99.7" r="0.55" fill="#555555"/><circle cx="50.7" cy="88.4" r="0.35" fill="#555555"/><circle cx="75.5" cy="78.6" r="0.55" fill="#555555"/><circle cx="56.5" cy="79.3" r="0.55" fill="#555555"/><circle cx="100.4" cy="100.0" r="0.35" fill="#555555"/><circle cx="59.4" cy="78.8" r="0.55" fill="#555555"/><circle cx="102.2" cy="82.1" r="0.55" fill="#555555"/><circle cx="102.5" cy="96.3" r="0.35" fill="#555555"/><circle cx="97.6" cy="81.0" r="0.45" fill="#555555"/><circle cx="94.6" cy="80.2" r="0.35" fill="#555555"/><circle cx="100.8" cy="82.4" r="0.45" fill="#555555"/><circle cx="81.9" cy="79.9" r="0.35" fill="#555555"/><circle cx="48.9" cy="81.9" r="0.45" fill="#555555"/><circle cx="48.1" cy="88.0" r="0.55" fill="#555555"/><circle cx="104.0" cy="90.9" r="0.45" fill="#555555"/><circle cx="100.5" cy="84.2" r="0.45" fill="#555555"/><circle cx="104.4" cy="93.7" r="0.35" fill="#555555"/><circle cx="99.4" cy="81.6" r="0.35" fill="#555555"/><circle cx="50.5" cy="88.4" r="0.35" fill="#555555"/><circle cx="81.8" cy="79.8" r="0.45" fill="#555555"/><circle cx="57.7" cy="79.6" r="0.35" fill="#555555"/><circle cx="83.8" cy="77.0" r="0.35" fill="#555555"/><circle cx="73.1" cy="80.6" r="0.35" fill="#555555"/><circle cx="63.0" cy="79.1" r="0.35" fill="#555555"/><circle cx="105.7" cy="95.1" r="0.45" fill="#555555"/><circle cx="56.0" cy="78.9" r="0.45" fill="#555555"/><circle cx="75.4" cy="76.6" r="0.55" fill="#555555"/><circle cx="102.7" cy="100.1" r="0.45" fill="#555555"/><circle cx="105.1" cy="90.2" r="0.35" fill="#555555"/><circle cx="50.3" cy="87.5" r="0.45" fill="#555555"/><circle cx="53.3" cy="80.2" r="0.45" fill="#555555"/><circle cx="103.7" cy="88.4" r="0.45" fill="#555555"/><circle cx="50.5" cy="81.7" r="0.45" fill="#555555"/><circle cx="93.0" cy="97.8" r="0.45" fill="#555555"/><circle cx="50.5" cy="84.2" r="0.55" fill="#555555"/><circle cx="103.1" cy="90.3" r="0.35" fill="#555555"/><circle cx="47.3" cy="86.6" r="0.55" fill="#555555"/><circle cx="102.4" cy="85.2" r="0.55" fill="#555555"/><circle cx="47.4" cy="86.5" r="0.45" fill="#555555"/><circle cx="96.0" cy="80.2" r="0.55" fill="#555555"/><circle cx="51.5" cy="81.9" r="0.45" fill="#555555"/><circle cx="51.0" cy="88.7" r="0.45" fill="#555555"/><circle cx="102.4" cy="97.4" r="0.45" fill="#555555"/><circle cx="56.1" cy="78.9" r="0.45" fill="#555555"/><circle cx="67.5" cy="79.8" r="0.45" fill="#555555"/><circle cx="84.6" cy="98.1" r="0.35" fill="#555555"/><circle cx="80.3" cy="80.2" r="0.45" fill="#555555"/>
<circle cx="49.8" cy="97.2" r="0.55" fill="#555555"/><circle cx="62.7" cy="105.3" r="0.35" fill="#555555"/><circle cx="50.6" cy="95.7" r="0.35" fill="#555555"/><circle cx="62.5" cy="98.8" r="0.45" fill="#555555"/><circle cx="52.5" cy="100.9" r="0.55" fill="#555555"/><circle cx="58.0" cy="106.3" r="0.55" fill="#555555"/><circle cx="50.8" cy="98.4" r="0.45" fill="#555555"/><circle cx="66.1" cy="106.3" r="0.35" fill="#555555"/><circle cx="65.6" cy="103.2" r="0.35" fill="#555555"/><circle cx="70.8" cy="106.6" r="0.45" fill="#555555"/><circle cx="47.5" cy="94.2" r="0.55" fill="#555555"/><circle cx="57.2" cy="102.6" r="0.45" fill="#555555"/><circle cx="48.9" cy="93.6" r="0.35" fill="#555555"/><circle cx="51.9" cy="95.2" r="0.45" fill="#555555"/><circle cx="52.6" cy="100.4" r="0.55" fill="#555555"/><circle cx="60.0" cy="104.8" r="0.35" fill="#555555"/><circle cx="57.9" cy="95.8" r="0.55" fill="#555555"/><circle cx="48.5" cy="93.3" r="0.55" fill="#555555"/><circle cx="63.1" cy="105.2" r="0.35" fill="#555555"/><circle cx="49.9" cy="94.8" r="0.55" fill="#555555"/>
<circle cx="93.2" cy="135.9" r="0.45" fill="#555555"/><circle cx="70.6" cy="136.8" r="0.35" fill="#555555"/><circle cx="97.5" cy="113.9" r="0.35" fill="#555555"/><circle cx="57.5" cy="135.7" r="0.55" fill="#555555"/><circle cx="96.3" cy="127.5" r="0.35" fill="#555555"/><circle cx="52.5" cy="133.5" r="0.45" fill="#555555"/><circle cx="82.1" cy="134.9" r="0.55" fill="#555555"/><circle cx="68.5" cy="135.3" r="0.45" fill="#555555"/><circle cx="94.4" cy="132.3" r="0.35" fill="#555555"/><circle cx="50.8" cy="132.7" r="0.35" fill="#555555"/><circle cx="53.7" cy="133.8" r="0.35" fill="#555555"/><circle cx="100.2" cy="122.5" r="0.55" fill="#555555"/><circle cx="56.3" cy="136.3" r="0.45" fill="#555555"/><circle cx="54.5" cy="123.2" r="0.35" fill="#555555"/><circle cx="56.1" cy="123.5" r="0.45" fill="#555555"/><circle cx="45.5" cy="127.5" r="0.35" fill="#555555"/><circle cx="90.0" cy="138.1" r="0.45" fill="#555555"/><circle cx="70.8" cy="140.2" r="0.45" fill="#555555"/><circle cx="100.5" cy="121.6" r="0.35" fill="#555555"/><circle cx="93.8" cy="134.1" r="0.35" fill="#555555"/><circle cx="50.7" cy="131.0" r="0.45" fill="#555555"/><circle cx="53.8" cy="123.5" r="0.35" fill="#555555"/><circle cx="91.8" cy="136.9" r="0.35" fill="#555555"/><circle cx="99.6" cy="113.5" r="0.55" fill="#555555"/><circle cx="95.5" cy="114.0" r="0.45" fill="#555555"/><circle cx="47.1" cy="128.9" r="0.45" fill="#555555"/><circle cx="56.6" cy="134.6" r="0.45" fill="#555555"/><circle cx="66.1" cy="136.9" r="0.35" fill="#555555"/><circle cx="95.9" cy="113.1" r="0.35" fill="#555555"/><circle cx="45.5" cy="127.5" r="0.45" fill="#555555"/><circle cx="97.8" cy="128.8" r="0.35" fill="#555555"/><circle cx="98.5" cy="125.4" r="0.45" fill="#555555"/><circle cx="70.1" cy="118.8" r="0.55" fill="#555555"/><circle cx="101.2" cy="122.9" r="0.55" fill="#555555"/><circle cx="48.3" cy="124.5" r="0.45" fill="#555555"/><circle cx="97.3" cy="123.2" r="0.55" fill="#555555"/><circle cx="101.5" cy="115.3" r="0.45" fill="#555555"/><circle cx="72.7" cy="140.4" r="0.35" fill="#555555"/><circle cx="96.6" cy="130.6" r="0.45" fill="#555555"/><circle cx="100.0" cy="124.9" r="0.45" fill="#555555"/><circle cx="102.2" cy="124.1" r="0.45" fill="#555555"/><circle cx="94.0" cy="133.9" r="0.35" fill="#555555"/><circle cx="68.3" cy="136.1" r="0.45" fill="#555555"/><circle cx="97.4" cy="127.5" r="0.45" fill="#555555"/><circle cx="54.7" cy="136.3" r="0.35" fill="#555555"/><circle cx="46.4" cy="125.0" r="0.45" fill="#555555"/><circle cx="68.0" cy="115.7" r="0.35" fill="#555555"/><circle cx="72.7" cy="138.8" r="0.45" fill="#555555"/><circle cx="66.6" cy="139.7" r="0.55" fill="#555555"/><circle cx="100.9" cy="125.2" r="0.45" fill="#555555"/><circle cx="98.0" cy="131.7" r="0.35" fill="#555555"/><circle cx="76.3" cy="136.6" r="0.55" fill="#555555"/><circle cx="60.3" cy="137.4" r="0.35" fill="#555555"/><circle cx="100.2" cy="124.7" r="0.45" fill="#555555"/><circle cx="64.1" cy="120.8" r="0.45" fill="#555555"/>
<line x1="74.40" y1="44.80" x2="74.40" y2="151.20" stroke="#3a4050" stroke-width="1.0" />
<line x1="28.00" y1="106.30" x2="135.50" y2="106.30" stroke="#3a4050" stroke-width="1.0" />
<line x1="183.80" y1="44.80" x2="183.80" y2="151.20" stroke="#3a4050" stroke-width="1.0" />
<line x1="139.00" y1="107.20" x2="245.30" y2="107.20" stroke="#3a4050" stroke-width="1.0" />
<text x="29.70" y="54.60" font-size="8.2" text-anchor="start" font-weight="normal" fill="#2a2a2a" stroke="#2a2a2a" stroke-width="0.08" textLength="15.6" lengthAdjust="spacingAndGlyphs" >14.3</text>
<text x="133.00" y="53.00" font-size="8.2" text-anchor="end" font-weight="normal" fill="#2a2a2a" stroke="#2a2a2a" stroke-width="0.08" >cTfh</text>
<text x="133.00" y="63.40" font-size="8.2" text-anchor="end" font-weight="normal" fill="#2a2a2a" stroke="#2a2a2a" stroke-width="0.08" >38.1</text>
<text x="29.40" y="148.50" font-size="8.2" text-anchor="start" font-weight="normal" fill="#2a2a2a" stroke="#2a2a2a" stroke-width="0.08" textLength="16.6" lengthAdjust="spacingAndGlyphs" >27.0</text>
<text x="133.40" y="148.50" font-size="8.2" text-anchor="end" font-weight="normal" fill="#2a2a2a" stroke="#2a2a2a" stroke-width="0.08" >20.6</text>
<text x="140.20" y="54.60" font-size="8.2" text-anchor="start" font-weight="normal" fill="#2a2a2a" stroke="#2a2a2a" stroke-width="0.08" >8.30</text>
<text x="243.40" y="53.00" font-size="8.2" text-anchor="end" font-weight="normal" fill="#2a2a2a" stroke="#2a2a2a" stroke-width="0.08" >cTFH</text>
<text x="243.40" y="63.40" font-size="8.2" text-anchor="end" font-weight="normal" fill="#2a2a2a" stroke="#2a2a2a" stroke-width="0.08" >7.90</text>
<text x="139.90" y="148.50" font-size="8.2" text-anchor="start" font-weight="normal" fill="#2a2a2a" stroke="#2a2a2a" stroke-width="0.08" >60.5</text>
<text x="243.40" y="148.50" font-size="8.2" text-anchor="end" font-weight="normal" fill="#2a2a2a" stroke="#2a2a2a" stroke-width="0.08" >23.3</text>
<line x1="22.30" y1="151.00" x2="22.30" y2="50.00" stroke="#44668f" stroke-width="1.9" />
<path d="M22.3 44.6 L25.6 51.6 L22.3 50 L19 51.6 Z" fill="#1f3d63"/>
<line x1="30.00" y1="157.60" x2="240.00" y2="157.60" stroke="#44668f" stroke-width="1.9" />
<path d="M245.4 157.6 L238 154.3 L239.8 157.6 L238 160.9 Z" fill="#1f3d63"/>
<text x="16.00" y="98.00" font-size="10.2" text-anchor="middle" fill="#2a2a2a" stroke="#2a2a2a" stroke-width="0.08" transform="rotate(-90 16.00 98.00)" textLength="26.6" lengthAdjust="spacingAndGlyphs">CXCR5<tspan font-size="7.14" dy="-3.88">+</tspan></text>
<text x="126.70" y="172.60" font-size="9.9" text-anchor="start" font-weight="normal" fill="#2a2a2a" stroke="#2a2a2a" stroke-width="0.08" textLength="20.8" lengthAdjust="spacingAndGlyphs" >PD-1<tspan font-size="6.93" dy="-3.76">+</tspan></text>
<text x="266.30" y="10.00" font-size="10.5" text-anchor="start" font-weight="bold" fill="#111" stroke="#111" stroke-width="0" >B</text>
<text x="291.30" y="22.60" font-size="8.3" text-anchor="start" font-weight="normal" fill="#222" stroke="#222" stroke-width="0.08" textLength="92.9" lengthAdjust="spacingAndGlyphs" >Gated on CD45RA<tspan font-size="5.81" dy="-3.15">−</tspan><tspan dy="3.15">CD4</tspan><tspan font-size="5.81" dy="-3.15">+</tspan></text>
<line x1="338.00" y1="65.55" x2="364.00" y2="130.30" stroke="#303030" stroke-width="0.7" />
<line x1="338.00" y1="83.57" x2="364.00" y2="137.82" stroke="#303030" stroke-width="0.7" />
<line x1="338.00" y1="85.16" x2="364.00" y2="134.26" stroke="#303030" stroke-width="0.7" />
<line x1="338.00" y1="102.18" x2="364.00" y2="117.43" stroke="#303030" stroke-width="0.7" />
<line x1="338.00" y1="105.55" x2="364.00" y2="120.40" stroke="#303030" stroke-width="0.7" />
<line x1="338.00" y1="109.51" x2="364.00" y2="124.36" stroke="#303030" stroke-width="0.7" />
<line x1="338.00" y1="113.47" x2="364.00" y2="114.26" stroke="#303030" stroke-width="0.7" />
<line x1="338.00" y1="119.01" x2="364.00" y2="128.32" stroke="#303030" stroke-width="0.7" />
<circle cx="310.50" cy="123.80" r="2.25" fill="#1f4068" stroke="#0a1a30" stroke-width="0.9"/>
<circle cx="314.50" cy="123.80" r="2.25" fill="#1f4068" stroke="#0a1a30" stroke-width="0.9"/>
<circle cx="308.00" cy="126.60" r="2.25" fill="#1f4068" stroke="#0a1a30" stroke-width="0.9"/>
<circle cx="312.00" cy="126.60" r="2.25" fill="#1f4068" stroke="#0a1a30" stroke-width="0.9"/>
<circle cx="316.00" cy="126.60" r="2.25" fill="#1f4068" stroke="#0a1a30" stroke-width="0.9"/>
<circle cx="309.50" cy="129.40" r="2.25" fill="#1f4068" stroke="#0a1a30" stroke-width="0.9"/>
<circle cx="313.50" cy="129.40" r="2.25" fill="#1f4068" stroke="#0a1a30" stroke-width="0.9"/>
<circle cx="306.00" cy="132.00" r="2.25" fill="#1f4068" stroke="#0a1a30" stroke-width="0.9"/>
<circle cx="310.00" cy="132.00" r="2.25" fill="#1f4068" stroke="#0a1a30" stroke-width="0.9"/>
<circle cx="314.00" cy="132.00" r="2.25" fill="#1f4068" stroke="#0a1a30" stroke-width="0.9"/>
<circle cx="318.00" cy="132.00" r="2.25" fill="#1f4068" stroke="#0a1a30" stroke-width="0.9"/>
<circle cx="305.00" cy="134.60" r="2.25" fill="#1f4068" stroke="#0a1a30" stroke-width="0.9"/>
<circle cx="309.00" cy="134.60" r="2.25" fill="#1f4068" stroke="#0a1a30" stroke-width="0.9"/>
<circle cx="313.00" cy="134.60" r="2.25" fill="#1f4068" stroke="#0a1a30" stroke-width="0.9"/>
<circle cx="317.00" cy="134.60" r="2.25" fill="#1f4068" stroke="#0a1a30" stroke-width="0.9"/>
<circle cx="304.00" cy="137.10" r="2.25" fill="#1f4068" stroke="#0a1a30" stroke-width="0.9"/>
<circle cx="308.00" cy="137.10" r="2.25" fill="#1f4068" stroke="#0a1a30" stroke-width="0.9"/>
<circle cx="312.00" cy="137.10" r="2.25" fill="#1f4068" stroke="#0a1a30" stroke-width="0.9"/>
<circle cx="316.00" cy="137.10" r="2.25" fill="#1f4068" stroke="#0a1a30" stroke-width="0.9"/>
<circle cx="319.50" cy="137.10" r="2.25" fill="#1f4068" stroke="#0a1a30" stroke-width="0.9"/>
<circle cx="306.50" cy="138.40" r="2.25" fill="#1f4068" stroke="#0a1a30" stroke-width="0.9"/>
<circle cx="310.50" cy="138.40" r="2.25" fill="#1f4068" stroke="#0a1a30" stroke-width="0.9"/>
<circle cx="314.50" cy="138.40" r="2.25" fill="#1f4068" stroke="#0a1a30" stroke-width="0.9"/>
<circle cx="338.00" cy="65.55" r="2.25" fill="#ad102d" stroke="#4a0410" stroke-width="0.9"/>
<circle cx="338.00" cy="83.57" r="2.25" fill="#ad102d" stroke="#4a0410" stroke-width="0.9"/>
<circle cx="338.00" cy="85.16" r="2.25" fill="#ad102d" stroke="#4a0410" stroke-width="0.9"/>
<circle cx="338.00" cy="102.18" r="2.25" fill="#ad102d" stroke="#4a0410" stroke-width="0.9"/>
<circle cx="338.00" cy="105.55" r="2.25" fill="#ad102d" stroke="#4a0410" stroke-width="0.9"/>
<circle cx="338.00" cy="109.51" r="2.25" fill="#ad102d" stroke="#4a0410" stroke-width="0.9"/>
<circle cx="338.00" cy="113.47" r="2.25" fill="#ad102d" stroke="#4a0410" stroke-width="0.9"/>
<circle cx="338.00" cy="119.01" r="2.25" fill="#ad102d" stroke="#4a0410" stroke-width="0.9"/>
<circle cx="364.00" cy="130.30" r="2.25" fill="#56a054" stroke="#173f18" stroke-width="0.9"/>
<circle cx="364.00" cy="137.82" r="2.25" fill="#56a054" stroke="#173f18" stroke-width="0.9"/>
<circle cx="364.00" cy="134.26" r="2.25" fill="#56a054" stroke="#173f18" stroke-width="0.9"/>
<circle cx="364.00" cy="117.43" r="2.25" fill="#56a054" stroke="#173f18" stroke-width="0.9"/>
<circle cx="364.00" cy="120.40" r="2.25" fill="#56a054" stroke="#173f18" stroke-width="0.9"/>
<circle cx="364.00" cy="124.36" r="2.25" fill="#56a054" stroke="#173f18" stroke-width="0.9"/>
<circle cx="364.00" cy="114.26" r="2.25" fill="#56a054" stroke="#173f18" stroke-width="0.9"/>
<circle cx="364.00" cy="128.32" r="2.25" fill="#56a054" stroke="#173f18" stroke-width="0.9"/>
<line x1="295.00" y1="41.20" x2="295.00" y2="140.20" stroke="#1c1c1c" stroke-width="1.1" />
<line x1="292.40" y1="140.20" x2="295.00" y2="140.20" stroke="#1c1c1c" stroke-width="1.0" />
<text x="288.00" y="143.15" font-size="8.3" text-anchor="end" font-weight="normal" fill="#333" stroke="#333" stroke-width="0.08" >0</text>
<line x1="292.40" y1="120.40" x2="295.00" y2="120.40" stroke="#1c1c1c" stroke-width="1.0" />
<text x="288.00" y="123.35" font-size="8.3" text-anchor="end" font-weight="normal" fill="#333" stroke="#333" stroke-width="0.08" >10</text>
<line x1="292.40" y1="100.60" x2="295.00" y2="100.60" stroke="#1c1c1c" stroke-width="1.0" />
<text x="288.00" y="103.55" font-size="8.3" text-anchor="end" font-weight="normal" fill="#333" stroke="#333" stroke-width="0.08" >20</text>
<line x1="292.40" y1="80.80" x2="295.00" y2="80.80" stroke="#1c1c1c" stroke-width="1.0" />
<text x="288.00" y="83.75" font-size="8.3" text-anchor="end" font-weight="normal" fill="#333" stroke="#333" stroke-width="0.08" >30</text>
<line x1="292.40" y1="61.00" x2="295.00" y2="61.00" stroke="#1c1c1c" stroke-width="1.0" />
<text x="288.00" y="63.95" font-size="8.3" text-anchor="end" font-weight="normal" fill="#333" stroke="#333" stroke-width="0.08" >40</text>
<line x1="292.40" y1="41.20" x2="295.00" y2="41.20" stroke="#1c1c1c" stroke-width="1.0" />
<text x="288.00" y="44.15" font-size="8.3" text-anchor="end" font-weight="normal" fill="#333" stroke="#333" stroke-width="0.08" >50</text>
<line x1="294.50" y1="140.20" x2="381.50" y2="140.20" stroke="#1c1c1c" stroke-width="1.1" />
<line x1="311.70" y1="140.20" x2="311.70" y2="142.80" stroke="#1c1c1c" stroke-width="1.0" />
<line x1="338.00" y1="140.20" x2="338.00" y2="142.80" stroke="#1c1c1c" stroke-width="1.0" />
<line x1="364.00" y1="140.20" x2="364.00" y2="142.80" stroke="#1c1c1c" stroke-width="1.0" />
<line x1="309.00" y1="45.40" x2="363.50" y2="45.40" stroke="#444" stroke-width="0.9" />
<text x="336.80" y="43.60" font-size="8.2" text-anchor="middle" font-weight="normal" fill="#333" stroke="#333" stroke-width="0.08" >ns</text>
<line x1="309.00" y1="54.80" x2="336.80" y2="54.80" stroke="#444" stroke-width="0.9" />
<circle cx="317.42" cy="51.60" r="1.2" fill="#222"/>
<circle cx="321.07" cy="51.60" r="1.2" fill="#222"/>
<circle cx="324.72" cy="51.60" r="1.2" fill="#222"/>
<circle cx="328.37" cy="51.60" r="1.2" fill="#222"/>
<line x1="337.20" y1="59.50" x2="365.00" y2="59.50" stroke="#444" stroke-width="0.9" />
<circle cx="347.45" cy="56.30" r="1.2" fill="#222"/>
<circle cx="351.10" cy="56.30" r="1.2" fill="#222"/>
<circle cx="354.75" cy="56.30" r="1.2" fill="#222"/>
<text x="273.30" y="89.50" font-size="9.0" text-anchor="middle" fill="#2a2a2a" stroke="#2a2a2a" stroke-width="0.08" transform="rotate(-90 273.30 89.50)" textLength="81" lengthAdjust="spacingAndGlyphs">% cTfh (PD-1<tspan font-size="6.30" dy="-3.42">+</tspan><tspan dy="3.42"> CXCR5</tspan><tspan font-size="6.30" dy="-3.42">+</tspan><tspan dy="3.42">)</tspan></text>
<text x="405.20" y="10.30" font-size="10.5" text-anchor="start" font-weight="bold" fill="#111" stroke="#111" stroke-width="0" >C</text>
<text x="426.60" y="22.60" font-size="8.3" text-anchor="start" font-weight="normal" fill="#222" stroke="#222" stroke-width="0.08" textLength="90.8" lengthAdjust="spacingAndGlyphs" >Gated on CD45RA<tspan font-size="5.81" dy="-3.15">−</tspan><tspan dy="3.15">CD4</tspan><tspan font-size="5.81" dy="-3.15">+</tspan></text>
<line x1="473.10" y1="58.57" x2="496.50" y2="78.60" stroke="#303030" stroke-width="0.7" />
<line x1="473.10" y1="61.11" x2="496.50" y2="118.07" stroke="#303030" stroke-width="0.7" />
<line x1="473.10" y1="68.44" x2="496.50" y2="115.08" stroke="#303030" stroke-width="0.7" />
<line x1="473.10" y1="82.34" x2="496.50" y2="98.04" stroke="#303030" stroke-width="0.7" />
<line x1="473.10" y1="85.33" x2="496.50" y2="101.03" stroke="#303030" stroke-width="0.7" />
<line x1="473.10" y1="93.55" x2="496.50" y2="120.31" stroke="#303030" stroke-width="0.7" />
<line x1="473.10" y1="96.39" x2="496.50" y2="107.01" stroke="#303030" stroke-width="0.7" />
<line x1="473.10" y1="100.13" x2="496.50" y2="118.67" stroke="#303030" stroke-width="0.7" />
<circle cx="449.00" cy="106.50" r="2.25" fill="#1f4068" stroke="#0a1a30" stroke-width="0.9"/>
<circle cx="448.00" cy="109.50" r="2.25" fill="#1f4068" stroke="#0a1a30" stroke-width="0.9"/>
<circle cx="451.00" cy="109.50" r="2.25" fill="#1f4068" stroke="#0a1a30" stroke-width="0.9"/>
<circle cx="445.50" cy="112.20" r="2.25" fill="#1f4068" stroke="#0a1a30" stroke-width="0.9"/>
<circle cx="449.50" cy="112.20" r="2.25" fill="#1f4068" stroke="#0a1a30" stroke-width="0.9"/>
<circle cx="453.00" cy="112.20" r="2.25" fill="#1f4068" stroke="#0a1a30" stroke-width="0.9"/>
<circle cx="443.50" cy="114.80" r="2.25" fill="#1f4068" stroke="#0a1a30" stroke-width="0.9"/>
<circle cx="447.50" cy="114.80" r="2.25" fill="#1f4068" stroke="#0a1a30" stroke-width="0.9"/>
<circle cx="451.50" cy="114.80" r="2.25" fill="#1f4068" stroke="#0a1a30" stroke-width="0.9"/>
<circle cx="455.00" cy="114.80" r="2.25" fill="#1f4068" stroke="#0a1a30" stroke-width="0.9"/>
<circle cx="443.50" cy="117.40" r="2.25" fill="#1f4068" stroke="#0a1a30" stroke-width="0.9"/>
<circle cx="447.00" cy="117.40" r="2.25" fill="#1f4068" stroke="#0a1a30" stroke-width="0.9"/>
<circle cx="450.50" cy="117.40" r="2.25" fill="#1f4068" stroke="#0a1a30" stroke-width="0.9"/>
<circle cx="454.50" cy="117.40" r="2.25" fill="#1f4068" stroke="#0a1a30" stroke-width="0.9"/>
<circle cx="446.00" cy="120.00" r="2.25" fill="#1f4068" stroke="#0a1a30" stroke-width="0.9"/>
<circle cx="449.50" cy="120.00" r="2.25" fill="#1f4068" stroke="#0a1a30" stroke-width="0.9"/>
<circle cx="453.00" cy="120.00" r="2.25" fill="#1f4068" stroke="#0a1a30" stroke-width="0.9"/>
<circle cx="473.10" cy="58.57" r="2.25" fill="#ad102d" stroke="#4a0410" stroke-width="0.9"/>
<circle cx="473.10" cy="61.11" r="2.25" fill="#ad102d" stroke="#4a0410" stroke-width="0.9"/>
<circle cx="473.10" cy="68.44" r="2.25" fill="#ad102d" stroke="#4a0410" stroke-width="0.9"/>
<circle cx="473.10" cy="82.34" r="2.25" fill="#ad102d" stroke="#4a0410" stroke-width="0.9"/>
<circle cx="473.10" cy="85.33" r="2.25" fill="#ad102d" stroke="#4a0410" stroke-width="0.9"/>
<circle cx="473.10" cy="93.55" r="2.25" fill="#ad102d" stroke="#4a0410" stroke-width="0.9"/>
<circle cx="473.10" cy="96.39" r="2.25" fill="#ad102d" stroke="#4a0410" stroke-width="0.9"/>
<circle cx="473.10" cy="100.13" r="2.25" fill="#ad102d" stroke="#4a0410" stroke-width="0.9"/>
<circle cx="496.50" cy="78.60" r="2.25" fill="#56a054" stroke="#173f18" stroke-width="0.9"/>
<circle cx="496.50" cy="118.07" r="2.25" fill="#56a054" stroke="#173f18" stroke-width="0.9"/>
<circle cx="496.50" cy="115.08" r="2.25" fill="#56a054" stroke="#173f18" stroke-width="0.9"/>
<circle cx="496.50" cy="98.04" r="2.25" fill="#56a054" stroke="#173f18" stroke-width="0.9"/>
<circle cx="496.50" cy="101.03" r="2.25" fill="#56a054" stroke="#173f18" stroke-width="0.9"/>
<circle cx="496.50" cy="120.31" r="2.25" fill="#56a054" stroke="#173f18" stroke-width="0.9"/>
<circle cx="496.50" cy="107.01" r="2.25" fill="#56a054" stroke="#173f18" stroke-width="0.9"/>
<circle cx="496.50" cy="118.67" r="2.25" fill="#56a054" stroke="#173f18" stroke-width="0.9"/>
<line x1="433.40" y1="49.90" x2="433.40" y2="139.60" stroke="#1c1c1c" stroke-width="1.1" />
<line x1="430.80" y1="139.60" x2="433.40" y2="139.60" stroke="#1c1c1c" stroke-width="1.0" />
<text x="426.40" y="142.55" font-size="8.3" text-anchor="end" font-weight="normal" fill="#333" stroke="#333" stroke-width="0.08" >0</text>
<line x1="430.80" y1="109.70" x2="433.40" y2="109.70" stroke="#1c1c1c" stroke-width="1.0" />
<text x="426.40" y="112.65" font-size="8.3" text-anchor="end" font-weight="normal" fill="#333" stroke="#333" stroke-width="0.08" >20</text>
<line x1="430.80" y1="79.80" x2="433.40" y2="79.80" stroke="#1c1c1c" stroke-width="1.0" />
<text x="426.40" y="82.75" font-size="8.3" text-anchor="end" font-weight="normal" fill="#333" stroke="#333" stroke-width="0.08" >40</text>
<line x1="430.80" y1="49.90" x2="433.40" y2="49.90" stroke="#1c1c1c" stroke-width="1.0" />
<text x="426.40" y="52.85" font-size="8.3" text-anchor="end" font-weight="normal" fill="#333" stroke="#333" stroke-width="0.08" >60</text>
<line x1="432.90" y1="139.60" x2="512.30" y2="139.60" stroke="#1c1c1c" stroke-width="1.1" />
<line x1="449.30" y1="139.60" x2="449.30" y2="142.20" stroke="#1c1c1c" stroke-width="1.0" />
<line x1="473.10" y1="139.60" x2="473.10" y2="142.20" stroke="#1c1c1c" stroke-width="1.0" />
<line x1="496.50" y1="139.60" x2="496.50" y2="142.20" stroke="#1c1c1c" stroke-width="1.0" />
<line x1="446.70" y1="37.50" x2="496.50" y2="37.50" stroke="#444" stroke-width="0.9" />
<text x="471.40" y="35.60" font-size="8.2" text-anchor="middle" font-weight="normal" fill="#333" stroke="#333" stroke-width="0.08" >ns</text>
<line x1="446.70" y1="46.10" x2="471.80" y2="46.10" stroke="#444" stroke-width="0.9" />
<circle cx="453.77" cy="42.90" r="1.2" fill="#222"/>
<circle cx="457.42" cy="42.90" r="1.2" fill="#222"/>
<circle cx="461.07" cy="42.90" r="1.2" fill="#222"/>
<circle cx="464.72" cy="42.90" r="1.2" fill="#222"/>
<line x1="472.30" y1="50.30" x2="497.00" y2="50.30" stroke="#444" stroke-width="0.9" />
<circle cx="482.82" cy="47.10" r="1.2" fill="#222"/>
<circle cx="486.47" cy="47.10" r="1.2" fill="#222"/>
<text x="411.00" y="93.90" font-size="9.0" text-anchor="middle" fill="#2a2a2a" stroke="#2a2a2a" stroke-width="0.08" transform="rotate(-90 411.00 93.90)" textLength="75" lengthAdjust="spacingAndGlyphs">% Total cTfh (CXCR5<tspan font-size="6.30" dy="-3.42">+</tspan><tspan dy="3.42">)</tspan></text>
<text x="5.20" y="212.90" font-size="10.5" text-anchor="start" font-weight="bold" fill="#111" stroke="#111" stroke-width="0" >D</text>
<text x="51.70" y="226.60" font-size="8.3" text-anchor="start" font-weight="normal" fill="#222" stroke="#222" stroke-width="0.08" textLength="55.7" lengthAdjust="spacingAndGlyphs" >cTfh Activation</text>
<line x1="79.40" y1="257.88" x2="104.30" y2="325.50" stroke="#303030" stroke-width="0.7" />
<line x1="79.40" y1="293.90" x2="104.30" y2="319.18" stroke="#303030" stroke-width="0.7" />
<line x1="79.40" y1="296.43" x2="104.30" y2="321.08" stroke="#303030" stroke-width="0.7" />
<line x1="79.40" y1="300.22" x2="104.30" y2="322.34" stroke="#303030" stroke-width="0.7" />
<line x1="79.40" y1="304.02" x2="104.30" y2="323.61" stroke="#303030" stroke-width="0.7" />
<line x1="79.40" y1="307.81" x2="104.30" y2="324.87" stroke="#303030" stroke-width="0.7" />
<line x1="79.40" y1="310.97" x2="104.30" y2="326.14" stroke="#303030" stroke-width="0.7" />
<line x1="79.40" y1="314.76" x2="104.30" y2="327.08" stroke="#303030" stroke-width="0.7" />
<line x1="79.40" y1="327.08" x2="104.30" y2="327.40" stroke="#303030" stroke-width="0.7" />
<circle cx="54.10" cy="319.20" r="2.25" fill="#1f4068" stroke="#0a1a30" stroke-width="0.9"/>
<circle cx="49.00" cy="325.60" r="2.25" fill="#1f4068" stroke="#0a1a30" stroke-width="0.9"/>
<circle cx="53.00" cy="325.60" r="2.25" fill="#1f4068" stroke="#0a1a30" stroke-width="0.9"/>
<circle cx="57.00" cy="325.60" r="2.25" fill="#1f4068" stroke="#0a1a30" stroke-width="0.9"/>
<circle cx="60.50" cy="325.60" r="2.25" fill="#1f4068" stroke="#0a1a30" stroke-width="0.9"/>
<circle cx="79.40" cy="257.88" r="2.25" fill="#ad102d" stroke="#4a0410" stroke-width="0.9"/>
<circle cx="79.40" cy="293.90" r="2.25" fill="#ad102d" stroke="#4a0410" stroke-width="0.9"/>
<circle cx="79.40" cy="296.43" r="2.25" fill="#ad102d" stroke="#4a0410" stroke-width="0.9"/>
<circle cx="79.40" cy="300.22" r="2.25" fill="#ad102d" stroke="#4a0410" stroke-width="0.9"/>
<circle cx="79.40" cy="304.02" r="2.25" fill="#ad102d" stroke="#4a0410" stroke-width="0.9"/>
<circle cx="79.40" cy="307.81" r="2.25" fill="#ad102d" stroke="#4a0410" stroke-width="0.9"/>
<circle cx="79.40" cy="310.97" r="2.25" fill="#ad102d" stroke="#4a0410" stroke-width="0.9"/>
<circle cx="79.40" cy="314.76" r="2.25" fill="#ad102d" stroke="#4a0410" stroke-width="0.9"/>
<circle cx="79.40" cy="327.08" r="2.25" fill="#ad102d" stroke="#4a0410" stroke-width="0.9"/>
<circle cx="104.30" cy="325.50" r="2.25" fill="#56a054" stroke="#173f18" stroke-width="0.9"/>
<circle cx="104.30" cy="319.18" r="2.25" fill="#56a054" stroke="#173f18" stroke-width="0.9"/>
<circle cx="104.30" cy="321.08" r="2.25" fill="#56a054" stroke="#173f18" stroke-width="0.9"/>
<circle cx="104.30" cy="322.34" r="2.25" fill="#56a054" stroke="#173f18" stroke-width="0.9"/>
<circle cx="104.30" cy="323.61" r="2.25" fill="#56a054" stroke="#173f18" stroke-width="0.9"/>
<circle cx="104.30" cy="324.87" r="2.25" fill="#56a054" stroke="#173f18" stroke-width="0.9"/>
<circle cx="104.30" cy="326.14" r="2.25" fill="#56a054" stroke="#173f18" stroke-width="0.9"/>
<circle cx="104.30" cy="327.08" r="2.25" fill="#56a054" stroke="#173f18" stroke-width="0.9"/>
<circle cx="104.30" cy="327.40" r="2.25" fill="#56a054" stroke="#173f18" stroke-width="0.9"/>
<line x1="37.30" y1="232.60" x2="37.30" y2="327.40" stroke="#1c1c1c" stroke-width="1.1" />
<line x1="34.70" y1="327.40" x2="37.30" y2="327.40" stroke="#1c1c1c" stroke-width="1.0" />
<text x="30.30" y="330.35" font-size="8.3" text-anchor="end" font-weight="normal" fill="#333" stroke="#333" stroke-width="0.08" >0</text>
<line x1="34.70" y1="295.80" x2="37.30" y2="295.80" stroke="#1c1c1c" stroke-width="1.0" />
<text x="30.30" y="298.75" font-size="8.3" text-anchor="end" font-weight="normal" fill="#333" stroke="#333" stroke-width="0.08" >5</text>
<line x1="34.70" y1="264.20" x2="37.30" y2="264.20" stroke="#1c1c1c" stroke-width="1.0" />
<text x="30.30" y="267.15" font-size="8.3" text-anchor="end" font-weight="normal" fill="#333" stroke="#333" stroke-width="0.08" >10</text>
<line x1="34.70" y1="232.60" x2="37.30" y2="232.60" stroke="#1c1c1c" stroke-width="1.0" />
<text x="30.30" y="235.55" font-size="8.3" text-anchor="end" font-weight="normal" fill="#333" stroke="#333" stroke-width="0.08" >15</text>
<line x1="36.80" y1="327.40" x2="121.00" y2="327.40" stroke="#1c1c1c" stroke-width="1.1" />
<line x1="53.80" y1="327.40" x2="53.80" y2="330.00" stroke="#1c1c1c" stroke-width="1.0" />
<line x1="79.40" y1="327.40" x2="79.40" y2="330.00" stroke="#1c1c1c" stroke-width="1.0" />
<line x1="104.30" y1="327.40" x2="104.30" y2="330.00" stroke="#1c1c1c" stroke-width="1.0" />
<line x1="51.00" y1="236.40" x2="104.00" y2="236.40" stroke="#444" stroke-width="0.9" />
<text x="78.00" y="234.90" font-size="8.2" text-anchor="middle" font-weight="normal" fill="#333" stroke="#333" stroke-width="0.08" >ns</text>
<line x1="51.00" y1="245.60" x2="78.00" y2="245.60" stroke="#444" stroke-width="0.9" />
<circle cx="59.02" cy="242.40" r="1.2" fill="#222"/>
<circle cx="62.67" cy="242.40" r="1.2" fill="#222"/>
<circle cx="66.33" cy="242.40" r="1.2" fill="#222"/>
<circle cx="69.97" cy="242.40" r="1.2" fill="#222"/>
<line x1="79.00" y1="249.80" x2="105.00" y2="249.80" stroke="#444" stroke-width="0.9" />
<circle cx="90.17" cy="246.60" r="1.2" fill="#222"/>
<circle cx="93.83" cy="246.60" r="1.2" fill="#222"/>
<text x="15.60" y="281.30" font-size="9.0" text-anchor="middle" fill="#2a2a2a" stroke="#2a2a2a" stroke-width="0.08" transform="rotate(-90 15.60 281.30)" textLength="72" lengthAdjust="spacingAndGlyphs">% HLA-DR<tspan font-size="6.30" dy="-3.42">+</tspan><tspan dy="3.42"> CXCR5</tspan><tspan font-size="6.30" dy="-3.42">+</tspan></text>
<text x="138.30" y="213.00" font-size="10.5" text-anchor="start" font-weight="bold" fill="#111" stroke="#111" stroke-width="0" >E</text>
<text x="182.00" y="226.20" font-size="8.3" text-anchor="start" font-weight="normal" fill="#222" stroke="#222" stroke-width="0.08" textLength="58" lengthAdjust="spacingAndGlyphs" >cTfh Exhaustion</text>
<line x1="210.80" y1="263.10" x2="234.70" y2="325.53" stroke="#303030" stroke-width="0.7" />
<line x1="210.80" y1="289.31" x2="234.70" y2="325.53" stroke="#303030" stroke-width="0.7" />
<line x1="210.80" y1="304.23" x2="234.70" y2="313.15" stroke="#303030" stroke-width="0.7" />
<line x1="210.80" y1="319.88" x2="234.70" y2="313.15" stroke="#303030" stroke-width="0.7" />
<line x1="210.80" y1="322.25" x2="234.70" y2="325.53" stroke="#303030" stroke-width="0.7" />
<line x1="210.80" y1="324.62" x2="234.70" y2="325.53" stroke="#303030" stroke-width="0.7" />
<line x1="210.80" y1="326.80" x2="234.70" y2="326.44" stroke="#303030" stroke-width="0.7" />
<circle cx="186.80" cy="316.70" r="2.25" fill="#1f4068" stroke="#0a1a30" stroke-width="0.9"/>
<circle cx="186.80" cy="320.00" r="2.25" fill="#1f4068" stroke="#0a1a30" stroke-width="0.9"/>
<circle cx="183.00" cy="322.30" r="2.25" fill="#1f4068" stroke="#0a1a30" stroke-width="0.9"/>
<circle cx="190.50" cy="322.30" r="2.25" fill="#1f4068" stroke="#0a1a30" stroke-width="0.9"/>
<circle cx="180.50" cy="324.60" r="2.25" fill="#1f4068" stroke="#0a1a30" stroke-width="0.9"/>
<circle cx="184.50" cy="324.60" r="2.25" fill="#1f4068" stroke="#0a1a30" stroke-width="0.9"/>
<circle cx="188.50" cy="324.60" r="2.25" fill="#1f4068" stroke="#0a1a30" stroke-width="0.9"/>
<circle cx="192.50" cy="324.60" r="2.25" fill="#1f4068" stroke="#0a1a30" stroke-width="0.9"/>
<circle cx="210.80" cy="263.10" r="2.25" fill="#ad102d" stroke="#4a0410" stroke-width="0.9"/>
<circle cx="210.80" cy="289.31" r="2.25" fill="#ad102d" stroke="#4a0410" stroke-width="0.9"/>
<circle cx="210.80" cy="304.23" r="2.25" fill="#ad102d" stroke="#4a0410" stroke-width="0.9"/>
<circle cx="210.80" cy="319.88" r="2.25" fill="#ad102d" stroke="#4a0410" stroke-width="0.9"/>
<circle cx="210.80" cy="322.25" r="2.25" fill="#ad102d" stroke="#4a0410" stroke-width="0.9"/>
<circle cx="210.80" cy="324.62" r="2.25" fill="#ad102d" stroke="#4a0410" stroke-width="0.9"/>
<circle cx="210.80" cy="326.80" r="2.25" fill="#ad102d" stroke="#4a0410" stroke-width="0.9"/>
<circle cx="234.70" cy="325.53" r="2.25" fill="#56a054" stroke="#173f18" stroke-width="0.9"/>
<circle cx="234.70" cy="325.53" r="2.25" fill="#56a054" stroke="#173f18" stroke-width="0.9"/>
<circle cx="234.70" cy="313.15" r="2.25" fill="#56a054" stroke="#173f18" stroke-width="0.9"/>
<circle cx="234.70" cy="313.15" r="2.25" fill="#56a054" stroke="#173f18" stroke-width="0.9"/>
<circle cx="234.70" cy="325.53" r="2.25" fill="#56a054" stroke="#173f18" stroke-width="0.9"/>
<circle cx="234.70" cy="325.53" r="2.25" fill="#56a054" stroke="#173f18" stroke-width="0.9"/>
<circle cx="234.70" cy="326.44" r="2.25" fill="#56a054" stroke="#173f18" stroke-width="0.9"/>
<line x1="170.80" y1="235.80" x2="170.80" y2="326.80" stroke="#1c1c1c" stroke-width="1.1" />
<line x1="168.20" y1="326.80" x2="170.80" y2="326.80" stroke="#1c1c1c" stroke-width="1.0" />
<text x="163.80" y="329.75" font-size="8.3" text-anchor="end" font-weight="normal" fill="#333" stroke="#333" stroke-width="0.08" >0</text>
<line x1="168.20" y1="308.60" x2="170.80" y2="308.60" stroke="#1c1c1c" stroke-width="1.0" />
<text x="163.80" y="311.55" font-size="8.3" text-anchor="end" font-weight="normal" fill="#333" stroke="#333" stroke-width="0.08" >1</text>
<line x1="168.20" y1="290.40" x2="170.80" y2="290.40" stroke="#1c1c1c" stroke-width="1.0" />
<text x="163.80" y="293.35" font-size="8.3" text-anchor="end" font-weight="normal" fill="#333" stroke="#333" stroke-width="0.08" >2</text>
<line x1="168.20" y1="272.20" x2="170.80" y2="272.20" stroke="#1c1c1c" stroke-width="1.0" />
<text x="163.80" y="275.15" font-size="8.3" text-anchor="end" font-weight="normal" fill="#333" stroke="#333" stroke-width="0.08" >3</text>
<line x1="168.20" y1="254.00" x2="170.80" y2="254.00" stroke="#1c1c1c" stroke-width="1.0" />
<text x="163.80" y="256.95" font-size="8.3" text-anchor="end" font-weight="normal" fill="#333" stroke="#333" stroke-width="0.08" >4</text>
<line x1="168.20" y1="235.80" x2="170.80" y2="235.80" stroke="#1c1c1c" stroke-width="1.0" />
<text x="163.80" y="238.75" font-size="8.3" text-anchor="end" font-weight="normal" fill="#333" stroke="#333" stroke-width="0.08" >5</text>
<line x1="170.30" y1="326.80" x2="251.00" y2="326.80" stroke="#1c1c1c" stroke-width="1.1" />
<line x1="187.00" y1="326.80" x2="187.00" y2="329.40" stroke="#1c1c1c" stroke-width="1.0" />
<line x1="210.80" y1="326.80" x2="210.80" y2="329.40" stroke="#1c1c1c" stroke-width="1.0" />
<line x1="234.70" y1="326.80" x2="234.70" y2="329.40" stroke="#1c1c1c" stroke-width="1.0" />
<line x1="184.00" y1="238.70" x2="235.00" y2="238.70" stroke="#444" stroke-width="0.9" />
<text x="209.70" y="237.20" font-size="8.2" text-anchor="middle" font-weight="normal" fill="#333" stroke="#333" stroke-width="0.08" >ns</text>
<line x1="184.00" y1="247.90" x2="209.70" y2="247.90" stroke="#444" stroke-width="0.9" />
<circle cx="196.85" cy="244.70" r="1.2" fill="#222"/>
<line x1="210.20" y1="255.30" x2="236.00" y2="255.30" stroke="#444" stroke-width="0.9" />
<text x="210.90" y="253.00" font-size="7.4" text-anchor="start" font-weight="normal" fill="#333" stroke="#333" stroke-width="0.08" textLength="24.7" lengthAdjust="spacingAndGlyphs" ><tspan font-style="italic">P</tspan> = .06</text>
<text x="154.00" y="278.00" font-size="9.0" text-anchor="middle" fill="#2a2a2a" stroke="#2a2a2a" stroke-width="0.08" transform="rotate(-90 154.00 278.00)" textLength="64" lengthAdjust="spacingAndGlyphs">% Tim3<tspan font-size="6.30" dy="-3.42">+</tspan><tspan dy="3.42"> CXCR5</tspan><tspan font-size="6.30" dy="-3.42">+</tspan></text>
<text x="266.60" y="213.00" font-size="10.5" text-anchor="start" font-weight="bold" fill="#111" stroke="#111" stroke-width="0" >F</text>
<text x="300.80" y="226.20" font-size="8.3" text-anchor="start" font-weight="normal" fill="#222" stroke="#222" stroke-width="0.08" textLength="62.5" lengthAdjust="spacingAndGlyphs" >cTfh Senescence</text>
<line x1="332.00" y1="262.68" x2="354.30" y2="298.90" stroke="#303030" stroke-width="0.7" />
<line x1="332.00" y1="281.64" x2="354.30" y2="321.54" stroke="#303030" stroke-width="0.7" />
<line x1="332.00" y1="286.45" x2="354.30" y2="323.80" stroke="#303030" stroke-width="0.7" />
<line x1="332.00" y1="292.67" x2="354.30" y2="306.82" stroke="#303030" stroke-width="0.7" />
<line x1="332.00" y1="294.94" x2="354.30" y2="310.50" stroke="#303030" stroke-width="0.7" />
<line x1="332.00" y1="304.56" x2="354.30" y2="326.07" stroke="#303030" stroke-width="0.7" />
<line x1="332.00" y1="314.75" x2="354.30" y2="326.63" stroke="#303030" stroke-width="0.7" />
<line x1="332.00" y1="317.01" x2="354.30" y2="326.92" stroke="#303030" stroke-width="0.7" />
<line x1="332.00" y1="326.63" x2="354.30" y2="327.20" stroke="#303030" stroke-width="0.7" />
<circle cx="307.70" cy="317.60" r="2.25" fill="#1f4068" stroke="#0a1a30" stroke-width="0.9"/>
<circle cx="311.30" cy="317.60" r="2.25" fill="#1f4068" stroke="#0a1a30" stroke-width="0.9"/>
<circle cx="305.60" cy="319.60" r="2.25" fill="#1f4068" stroke="#0a1a30" stroke-width="0.9"/>
<circle cx="309.50" cy="319.60" r="2.25" fill="#1f4068" stroke="#0a1a30" stroke-width="0.9"/>
<circle cx="313.40" cy="319.60" r="2.25" fill="#1f4068" stroke="#0a1a30" stroke-width="0.9"/>
<circle cx="305.00" cy="321.70" r="2.25" fill="#1f4068" stroke="#0a1a30" stroke-width="0.9"/>
<circle cx="308.50" cy="321.70" r="2.25" fill="#1f4068" stroke="#0a1a30" stroke-width="0.9"/>
<circle cx="312.20" cy="321.70" r="2.25" fill="#1f4068" stroke="#0a1a30" stroke-width="0.9"/>
<circle cx="314.60" cy="321.70" r="2.25" fill="#1f4068" stroke="#0a1a30" stroke-width="0.9"/>
<circle cx="305.00" cy="323.80" r="2.25" fill="#1f4068" stroke="#0a1a30" stroke-width="0.9"/>
<circle cx="308.00" cy="323.80" r="2.25" fill="#1f4068" stroke="#0a1a30" stroke-width="0.9"/>
<circle cx="311.00" cy="323.80" r="2.25" fill="#1f4068" stroke="#0a1a30" stroke-width="0.9"/>
<circle cx="314.20" cy="323.80" r="2.25" fill="#1f4068" stroke="#0a1a30" stroke-width="0.9"/>
<circle cx="306.60" cy="325.70" r="2.25" fill="#1f4068" stroke="#0a1a30" stroke-width="0.9"/>
<circle cx="310.00" cy="325.70" r="2.25" fill="#1f4068" stroke="#0a1a30" stroke-width="0.9"/>
<circle cx="313.00" cy="325.70" r="2.25" fill="#1f4068" stroke="#0a1a30" stroke-width="0.9"/>
<circle cx="332.00" cy="262.68" r="2.25" fill="#ad102d" stroke="#4a0410" stroke-width="0.9"/>
<circle cx="332.00" cy="281.64" r="2.25" fill="#ad102d" stroke="#4a0410" stroke-width="0.9"/>
<circle cx="332.00" cy="286.45" r="2.25" fill="#ad102d" stroke="#4a0410" stroke-width="0.9"/>
<circle cx="332.00" cy="292.67" r="2.25" fill="#ad102d" stroke="#4a0410" stroke-width="0.9"/>
<circle cx="332.00" cy="294.94" r="2.25" fill="#ad102d" stroke="#4a0410" stroke-width="0.9"/>
<circle cx="332.00" cy="304.56" r="2.25" fill="#ad102d" stroke="#4a0410" stroke-width="0.9"/>
<circle cx="332.00" cy="314.75" r="2.25" fill="#ad102d" stroke="#4a0410" stroke-width="0.9"/>
<circle cx="332.00" cy="317.01" r="2.25" fill="#ad102d" stroke="#4a0410" stroke-width="0.9"/>
<circle cx="332.00" cy="326.63" r="2.25" fill="#ad102d" stroke="#4a0410" stroke-width="0.9"/>
<circle cx="354.30" cy="298.90" r="2.25" fill="#56a054" stroke="#173f18" stroke-width="0.9"/>
<circle cx="354.30" cy="321.54" r="2.25" fill="#56a054" stroke="#173f18" stroke-width="0.9"/>
<circle cx="354.30" cy="323.80" r="2.25" fill="#56a054" stroke="#173f18" stroke-width="0.9"/>
<circle cx="354.30" cy="306.82" r="2.25" fill="#56a054" stroke="#173f18" stroke-width="0.9"/>
<circle cx="354.30" cy="310.50" r="2.25" fill="#56a054" stroke="#173f18" stroke-width="0.9"/>
<circle cx="354.30" cy="326.07" r="2.25" fill="#56a054" stroke="#173f18" stroke-width="0.9"/>
<circle cx="354.30" cy="326.63" r="2.25" fill="#56a054" stroke="#173f18" stroke-width="0.9"/>
<circle cx="354.30" cy="326.92" r="2.25" fill="#56a054" stroke="#173f18" stroke-width="0.9"/>
<circle cx="354.30" cy="327.20" r="2.25" fill="#56a054" stroke="#173f18" stroke-width="0.9"/>
<line x1="294.90" y1="242.30" x2="294.90" y2="327.20" stroke="#1c1c1c" stroke-width="1.1" />
<line x1="292.30" y1="327.20" x2="294.90" y2="327.20" stroke="#1c1c1c" stroke-width="1.0" />
<text x="287.90" y="330.15" font-size="8.3" text-anchor="end" font-weight="normal" fill="#333" stroke="#333" stroke-width="0.08" >0</text>
<line x1="292.30" y1="298.90" x2="294.90" y2="298.90" stroke="#1c1c1c" stroke-width="1.0" />
<text x="287.90" y="301.85" font-size="8.3" text-anchor="end" font-weight="normal" fill="#333" stroke="#333" stroke-width="0.08" >5</text>
<line x1="292.30" y1="270.60" x2="294.90" y2="270.60" stroke="#1c1c1c" stroke-width="1.0" />
<text x="287.90" y="273.55" font-size="8.3" text-anchor="end" font-weight="normal" fill="#333" stroke="#333" stroke-width="0.08" >10</text>
<line x1="292.30" y1="242.30" x2="294.90" y2="242.30" stroke="#1c1c1c" stroke-width="1.0" />
<text x="287.90" y="245.25" font-size="8.3" text-anchor="end" font-weight="normal" fill="#333" stroke="#333" stroke-width="0.08" >15</text>
<line x1="294.40" y1="327.20" x2="369.40" y2="327.20" stroke="#1c1c1c" stroke-width="1.1" />
<line x1="309.20" y1="327.20" x2="309.20" y2="329.80" stroke="#1c1c1c" stroke-width="1.0" />
<line x1="332.00" y1="327.20" x2="332.00" y2="329.80" stroke="#1c1c1c" stroke-width="1.0" />
<line x1="354.30" y1="327.20" x2="354.30" y2="329.80" stroke="#1c1c1c" stroke-width="1.0" />
<line x1="307.00" y1="240.60" x2="355.00" y2="240.60" stroke="#444" stroke-width="0.9" />
<text x="330.70" y="238.90" font-size="8.2" text-anchor="middle" font-weight="normal" fill="#333" stroke="#333" stroke-width="0.08" >ns</text>
<line x1="307.00" y1="249.60" x2="331.20" y2="249.60" stroke="#444" stroke-width="0.9" />
<circle cx="313.62" cy="246.40" r="1.2" fill="#222"/>
<circle cx="317.27" cy="246.40" r="1.2" fill="#222"/>
<circle cx="320.93" cy="246.40" r="1.2" fill="#222"/>
<circle cx="324.57" cy="246.40" r="1.2" fill="#222"/>
<line x1="331.70" y1="253.20" x2="355.00" y2="253.20" stroke="#444" stroke-width="0.9" />
<circle cx="341.53" cy="250.00" r="1.2" fill="#222"/>
<circle cx="345.18" cy="250.00" r="1.2" fill="#222"/>
<text x="272.60" y="285.40" font-size="9.0" text-anchor="middle" fill="#2a2a2a" stroke="#2a2a2a" stroke-width="0.08" transform="rotate(-90 272.60 285.40)" textLength="66" lengthAdjust="spacingAndGlyphs">% CD57<tspan font-size="6.30" dy="-3.42">+</tspan><tspan dy="3.42"> CXCR5</tspan><tspan font-size="6.30" dy="-3.42">+</tspan></text>
<text x="404.40" y="213.00" font-size="10.5" text-anchor="start" font-weight="bold" fill="#111" stroke="#111" stroke-width="0" >G</text>
<text x="429.40" y="226.60" font-size="8.3" text-anchor="start" font-weight="normal" fill="#222" stroke="#222" stroke-width="0.08" textLength="82.0" lengthAdjust="spacingAndGlyphs" >Gated on CD4<tspan font-size="5.81" dy="-3.15">+</tspan><tspan dy="3.15"> Naive</tspan></text>
<line x1="469.90" y1="266.95" x2="491.50" y2="324.15" stroke="#303030" stroke-width="0.7" />
<line x1="469.90" y1="296.65" x2="491.50" y2="322.22" stroke="#303030" stroke-width="0.7" />
<line x1="469.90" y1="298.85" x2="491.50" y2="323.05" stroke="#303030" stroke-width="0.7" />
<line x1="469.90" y1="309.85" x2="491.50" y2="324.15" stroke="#303030" stroke-width="0.7" />
<line x1="469.90" y1="314.25" x2="491.50" y2="314.25" stroke="#303030" stroke-width="0.7" />
<line x1="469.90" y1="317.00" x2="491.50" y2="323.60" stroke="#303030" stroke-width="0.7" />
<line x1="469.90" y1="319.47" x2="491.50" y2="324.15" stroke="#303030" stroke-width="0.7" />
<line x1="469.90" y1="321.68" x2="491.50" y2="324.43" stroke="#303030" stroke-width="0.7" />
<line x1="469.90" y1="324.70" x2="491.50" y2="324.70" stroke="#303030" stroke-width="0.7" />
<circle cx="448.00" cy="310.20" r="2.25" fill="#1f4068" stroke="#0a1a30" stroke-width="0.9"/>
<circle cx="444.40" cy="324.00" r="2.25" fill="#1f4068" stroke="#0a1a30" stroke-width="0.9"/>
<circle cx="447.00" cy="324.00" r="2.25" fill="#1f4068" stroke="#0a1a30" stroke-width="0.9"/>
<circle cx="449.70" cy="324.00" r="2.25" fill="#1f4068" stroke="#0a1a30" stroke-width="0.9"/>
<circle cx="452.30" cy="324.00" r="2.25" fill="#1f4068" stroke="#0a1a30" stroke-width="0.9"/>
<circle cx="469.90" cy="266.95" r="2.25" fill="#ad102d" stroke="#4a0410" stroke-width="0.9"/>
<circle cx="469.90" cy="296.65" r="2.25" fill="#ad102d" stroke="#4a0410" stroke-width="0.9"/>
<circle cx="469.90" cy="298.85" r="2.25" fill="#ad102d" stroke="#4a0410" stroke-width="0.9"/>
<circle cx="469.90" cy="309.85" r="2.25" fill="#ad102d" stroke="#4a0410" stroke-width="0.9"/>
<circle cx="469.90" cy="314.25" r="2.25" fill="#ad102d" stroke="#4a0410" stroke-width="0.9"/>
<circle cx="469.90" cy="317.00" r="2.25" fill="#ad102d" stroke="#4a0410" stroke-width="0.9"/>
<circle cx="469.90" cy="319.47" r="2.25" fill="#ad102d" stroke="#4a0410" stroke-width="0.9"/>
<circle cx="469.90" cy="321.68" r="2.25" fill="#ad102d" stroke="#4a0410" stroke-width="0.9"/>
<circle cx="469.90" cy="324.70" r="2.25" fill="#ad102d" stroke="#4a0410" stroke-width="0.9"/>
<circle cx="491.5" cy="324.15" r="2.25" fill="#7fb27c" stroke="#1d4a1e" stroke-width="0.9"/>
<circle cx="491.5" cy="322.22" r="2.25" fill="#7fb27c" stroke="#1d4a1e" stroke-width="0.9"/>
<circle cx="491.5" cy="323.05" r="2.25" fill="#7fb27c" stroke="#1d4a1e" stroke-width="0.9"/>
<circle cx="491.5" cy="324.15" r="2.25" fill="#7fb27c" stroke="#1d4a1e" stroke-width="0.9"/>
<circle cx="491.5" cy="314.25" r="2.25" fill="#7fb27c" stroke="#1d4a1e" stroke-width="0.9"/>
<circle cx="491.5" cy="323.60" r="2.25" fill="#7fb27c" stroke="#1d4a1e" stroke-width="0.9"/>
<circle cx="491.5" cy="324.15" r="2.25" fill="#7fb27c" stroke="#1d4a1e" stroke-width="0.9"/>
<circle cx="491.5" cy="324.43" r="2.25" fill="#7fb27c" stroke="#1d4a1e" stroke-width="0.9"/>
<circle cx="491.5" cy="324.70" r="2.25" fill="#7fb27c" stroke="#1d4a1e" stroke-width="0.9"/>
<line x1="433.70" y1="242.20" x2="433.70" y2="324.70" stroke="#1c1c1c" stroke-width="1.1" />
<line x1="431.10" y1="324.70" x2="433.70" y2="324.70" stroke="#1c1c1c" stroke-width="1.0" />
<text x="426.70" y="327.65" font-size="8.3" text-anchor="end" font-weight="normal" fill="#333" stroke="#333" stroke-width="0.08" >0</text>
<line x1="431.10" y1="297.20" x2="433.70" y2="297.20" stroke="#1c1c1c" stroke-width="1.0" />
<text x="426.70" y="300.15" font-size="8.3" text-anchor="end" font-weight="normal" fill="#333" stroke="#333" stroke-width="0.08" >5</text>
<line x1="431.10" y1="269.70" x2="433.70" y2="269.70" stroke="#1c1c1c" stroke-width="1.0" />
<text x="426.70" y="272.65" font-size="8.3" text-anchor="end" font-weight="normal" fill="#333" stroke="#333" stroke-width="0.08" >10</text>
<line x1="431.10" y1="242.20" x2="433.70" y2="242.20" stroke="#1c1c1c" stroke-width="1.0" />
<text x="426.70" y="245.15" font-size="8.3" text-anchor="end" font-weight="normal" fill="#333" stroke="#333" stroke-width="0.08" >15</text>
<line x1="433.20" y1="324.70" x2="506.90" y2="324.70" stroke="#1c1c1c" stroke-width="1.1" />
<line x1="448.00" y1="324.70" x2="448.00" y2="327.30" stroke="#1c1c1c" stroke-width="1.0" />
<line x1="469.90" y1="324.70" x2="469.90" y2="327.30" stroke="#1c1c1c" stroke-width="1.0" />
<line x1="491.50" y1="324.70" x2="491.50" y2="327.30" stroke="#1c1c1c" stroke-width="1.0" />
<line x1="446.10" y1="241.40" x2="491.60" y2="241.40" stroke="#444" stroke-width="0.9" />
<text x="468.60" y="239.90" font-size="8.2" text-anchor="middle" font-weight="normal" fill="#333" stroke="#333" stroke-width="0.08" >ns</text>
<line x1="448.70" y1="252.30" x2="470.40" y2="252.30" stroke="#444" stroke-width="0.9" />
<circle cx="454.07" cy="249.10" r="1.2" fill="#222"/>
<circle cx="457.72" cy="249.10" r="1.2" fill="#222"/>
<circle cx="461.37" cy="249.10" r="1.2" fill="#222"/>
<circle cx="465.02" cy="249.10" r="1.2" fill="#222"/>
<line x1="470.60" y1="257.00" x2="492.30" y2="257.00" stroke="#444" stroke-width="0.9" />
<circle cx="479.63" cy="253.80" r="1.2" fill="#222"/>
<circle cx="483.28" cy="253.80" r="1.2" fill="#222"/>
<text x="412.00" y="281.30" font-size="9.0" text-anchor="middle" fill="#2a2a2a" stroke="#2a2a2a" stroke-width="0.08" transform="rotate(-90 412.00 281.30)" textLength="82.5" lengthAdjust="spacingAndGlyphs">% cTfh (PD-1<tspan font-size="6.30" dy="-3.42">+</tspan><tspan dy="3.42"> CXCR5</tspan><tspan font-size="6.30" dy="-3.42">+</tspan><tspan dy="3.42">)</tspan></text>
<text x="6.30" y="389.60" font-size="10.5" text-anchor="start" font-weight="bold" fill="#111" stroke="#111" stroke-width="0" >H</text>
<text x="30.30" y="405.20" font-size="8.3" text-anchor="start" font-weight="normal" fill="#222" stroke="#222" stroke-width="0.08" textLength="88.2" lengthAdjust="spacingAndGlyphs" >Gated on CD4<tspan font-size="5.81" dy="-3.15">+</tspan><tspan dy="3.15"> TEMRA</tspan></text>
<line x1="74.40" y1="451.77" x2="96.40" y2="492.51" stroke="#303030" stroke-width="0.7" />
<line x1="74.40" y1="467.98" x2="96.40" y2="483.27" stroke="#303030" stroke-width="0.7" />
<line x1="74.40" y1="473.61" x2="96.40" y2="483.27" stroke="#303030" stroke-width="0.7" />
<line x1="74.40" y1="475.71" x2="96.40" y2="498.14" stroke="#303030" stroke-width="0.7" />
<line x1="74.40" y1="478.98" x2="96.40" y2="499.90" stroke="#303030" stroke-width="0.7" />
<line x1="74.40" y1="484.44" x2="96.40" y2="501.16" stroke="#303030" stroke-width="0.7" />
<line x1="74.40" y1="486.46" x2="96.40" y2="501.58" stroke="#303030" stroke-width="0.7" />
<line x1="74.40" y1="493.60" x2="96.40" y2="502.00" stroke="#303030" stroke-width="0.7" />
<circle cx="46.50" cy="498.60" r="2.25" fill="#1f4068" stroke="#0a1a30" stroke-width="0.9"/>
<circle cx="50.50" cy="498.60" r="2.25" fill="#1f4068" stroke="#0a1a30" stroke-width="0.9"/>
<circle cx="54.50" cy="498.60" r="2.25" fill="#1f4068" stroke="#0a1a30" stroke-width="0.9"/>
<circle cx="58.50" cy="498.60" r="2.25" fill="#1f4068" stroke="#0a1a30" stroke-width="0.9"/>
<circle cx="48.50" cy="500.60" r="2.25" fill="#1f4068" stroke="#0a1a30" stroke-width="0.9"/>
<circle cx="52.50" cy="500.60" r="2.25" fill="#1f4068" stroke="#0a1a30" stroke-width="0.9"/>
<circle cx="56.50" cy="500.60" r="2.25" fill="#1f4068" stroke="#0a1a30" stroke-width="0.9"/>
<circle cx="74.40" cy="451.77" r="2.25" fill="#ad102d" stroke="#4a0410" stroke-width="0.9"/>
<circle cx="74.40" cy="467.98" r="2.25" fill="#ad102d" stroke="#4a0410" stroke-width="0.9"/>
<circle cx="74.40" cy="473.61" r="2.25" fill="#ad102d" stroke="#4a0410" stroke-width="0.9"/>
<circle cx="74.40" cy="475.71" r="2.25" fill="#ad102d" stroke="#4a0410" stroke-width="0.9"/>
<circle cx="74.40" cy="478.98" r="2.25" fill="#ad102d" stroke="#4a0410" stroke-width="0.9"/>
<circle cx="74.40" cy="484.44" r="2.25" fill="#ad102d" stroke="#4a0410" stroke-width="0.9"/>
<circle cx="74.40" cy="486.46" r="2.25" fill="#ad102d" stroke="#4a0410" stroke-width="0.9"/>
<circle cx="74.40" cy="493.60" r="2.25" fill="#ad102d" stroke="#4a0410" stroke-width="0.9"/>
<circle cx="96.40" cy="492.51" r="2.25" fill="#56a054" stroke="#173f18" stroke-width="0.9"/>
<circle cx="96.40" cy="483.27" r="2.25" fill="#56a054" stroke="#173f18" stroke-width="0.9"/>
<circle cx="96.40" cy="483.27" r="2.25" fill="#56a054" stroke="#173f18" stroke-width="0.9"/>
<circle cx="96.40" cy="498.14" r="2.25" fill="#56a054" stroke="#173f18" stroke-width="0.9"/>
<circle cx="96.40" cy="499.90" r="2.25" fill="#56a054" stroke="#173f18" stroke-width="0.9"/>
<circle cx="96.40" cy="501.16" r="2.25" fill="#56a054" stroke="#173f18" stroke-width="0.9"/>
<circle cx="96.40" cy="501.58" r="2.25" fill="#56a054" stroke="#173f18" stroke-width="0.9"/>
<circle cx="96.40" cy="502.00" r="2.25" fill="#56a054" stroke="#173f18" stroke-width="0.9"/>
<line x1="37.10" y1="418.00" x2="37.10" y2="502.00" stroke="#1c1c1c" stroke-width="1.1" />
<line x1="34.50" y1="502.00" x2="37.10" y2="502.00" stroke="#1c1c1c" stroke-width="1.0" />
<text x="30.10" y="504.95" font-size="8.3" text-anchor="end" font-weight="normal" fill="#333" stroke="#333" stroke-width="0.08" >0</text>
<line x1="34.50" y1="485.20" x2="37.10" y2="485.20" stroke="#1c1c1c" stroke-width="1.0" />
<text x="30.10" y="488.15" font-size="8.3" text-anchor="end" font-weight="normal" fill="#333" stroke="#333" stroke-width="0.08" >20</text>
<line x1="34.50" y1="468.40" x2="37.10" y2="468.40" stroke="#1c1c1c" stroke-width="1.0" />
<text x="30.10" y="471.35" font-size="8.3" text-anchor="end" font-weight="normal" fill="#333" stroke="#333" stroke-width="0.08" >40</text>
<line x1="34.50" y1="451.60" x2="37.10" y2="451.60" stroke="#1c1c1c" stroke-width="1.0" />
<text x="30.10" y="454.55" font-size="8.3" text-anchor="end" font-weight="normal" fill="#333" stroke="#333" stroke-width="0.08" >60</text>
<line x1="34.50" y1="434.80" x2="37.10" y2="434.80" stroke="#1c1c1c" stroke-width="1.0" />
<text x="30.10" y="437.75" font-size="8.3" text-anchor="end" font-weight="normal" fill="#333" stroke="#333" stroke-width="0.08" >80</text>
<line x1="34.50" y1="418.00" x2="37.10" y2="418.00" stroke="#1c1c1c" stroke-width="1.0" />
<text x="30.10" y="420.95" font-size="8.3" text-anchor="end" font-weight="normal" fill="#333" stroke="#333" stroke-width="0.08" textLength="11.5" lengthAdjust="spacingAndGlyphs" >100</text>
<line x1="36.60" y1="502.00" x2="111.00" y2="502.00" stroke="#1c1c1c" stroke-width="1.1" />
<line x1="52.50" y1="502.00" x2="52.50" y2="504.60" stroke="#1c1c1c" stroke-width="1.0" />
<line x1="74.40" y1="502.00" x2="74.40" y2="504.60" stroke="#1c1c1c" stroke-width="1.0" />
<line x1="96.40" y1="502.00" x2="96.40" y2="504.60" stroke="#1c1c1c" stroke-width="1.0" />
<line x1="50.50" y1="417.30" x2="96.30" y2="417.30" stroke="#444" stroke-width="0.9" />
<text x="73.00" y="415.60" font-size="8.2" text-anchor="middle" font-weight="normal" fill="#333" stroke="#333" stroke-width="0.08" >ns</text>
<line x1="53.40" y1="428.50" x2="74.70" y2="428.50" stroke="#444" stroke-width="0.9" />
<circle cx="58.57" cy="425.30" r="1.2" fill="#222"/>
<circle cx="62.22" cy="425.30" r="1.2" fill="#222"/>
<circle cx="65.88" cy="425.30" r="1.2" fill="#222"/>
<circle cx="69.52" cy="425.30" r="1.2" fill="#222"/>
<line x1="75.60" y1="433.20" x2="97.20" y2="433.20" stroke="#444" stroke-width="0.9" />
<circle cx="84.58" cy="430.00" r="1.2" fill="#222"/>
<circle cx="88.23" cy="430.00" r="1.2" fill="#222"/>
<text x="11.00" y="458.20" font-size="9.0" text-anchor="middle" fill="#2a2a2a" stroke="#2a2a2a" stroke-width="0.08" transform="rotate(-90 11.00 458.20)" textLength="81.5" lengthAdjust="spacingAndGlyphs">% cTfh (PD-1<tspan font-size="6.30" dy="-3.42">+</tspan><tspan dy="3.42"> CXCR5</tspan><tspan font-size="6.30" dy="-3.42">+</tspan><tspan dy="3.42">)</tspan></text>
<text x="140.00" y="391.00" font-size="10.5" text-anchor="start" font-weight="bold" fill="#111" stroke="#111" stroke-width="0" >I</text>
<line x1="172" y1="487.2" x2="329.5" y2="487.2" stroke="#444" stroke-width="0.9" stroke-dasharray="1.0 1.6"/>
<path d="M180.30 485.00 C180.43 485.22 180.60 485.98 181.10 486.30 C181.60 486.62 182.90 486.68 183.30 486.90 C183.70 487.12 184.00 487.42 183.50 487.60 C183.00 487.78 180.83 487.93 180.30 488.00 C179.77 487.93 177.60 487.78 177.10 487.60 C176.60 487.42 176.90 487.12 177.30 486.90 C177.70 486.68 179.00 486.62 179.50 486.30 C180.00 485.98 180.17 485.22 180.30 485.00 Z" fill="#5a5488" stroke="#2e2a55" stroke-width="0.75"/>
<path d="M195.50 480.20 C195.72 480.42 196.38 481.03 196.80 481.50 C197.22 481.97 197.63 482.50 198.00 483.00 C198.37 483.50 198.70 484.00 199.00 484.50 C199.30 485.00 199.63 485.55 199.80 486.00 C199.97 486.45 200.22 486.87 200.00 487.20 C199.78 487.53 199.25 487.80 198.50 488.00 C197.75 488.20 196.00 488.33 195.50 488.40 C195.00 488.33 193.25 488.20 192.50 488.00 C191.75 487.80 191.22 487.53 191.00 487.20 C190.78 486.87 191.03 486.45 191.20 486.00 C191.37 485.55 191.70 485.00 192.00 484.50 C192.30 484.00 192.63 483.50 193.00 483.00 C193.37 482.50 193.78 481.97 194.20 481.50 C194.62 481.03 195.28 480.42 195.50 480.20 Z" fill="#c98420" stroke="#5e3604" stroke-width="0.9"/>
<line x1="191.57" y1="485.3" x2="199.43" y2="485.3" stroke="#5e3604" stroke-width="0.9"/>
<path d="M210.50 483.30 C210.87 483.40 211.97 483.68 212.70 483.90 C213.43 484.12 214.50 484.35 214.90 484.60 C215.30 484.85 215.40 485.15 215.10 485.40 C214.80 485.65 213.13 485.85 213.10 486.10 C213.07 486.35 214.80 486.63 214.90 486.90 C215.00 487.17 214.43 487.48 213.70 487.70 C212.97 487.92 211.03 488.12 210.50 488.20 C209.97 488.12 208.03 487.92 207.30 487.70 C206.57 487.48 206.00 487.17 206.10 486.90 C206.20 486.63 207.93 486.35 207.90 486.10 C207.87 485.85 206.20 485.65 205.90 485.40 C205.60 485.15 205.70 484.85 206.10 484.60 C206.50 484.35 207.57 484.12 208.30 483.90 C209.03 483.68 210.13 483.40 210.50 483.30 Z" fill="#2a6f98" stroke="#123e58" stroke-width="0.9"/>
<line x1="207.04" y1="485.8" x2="213.96" y2="485.8" stroke="#123e58" stroke-width="0.9"/>
<path d="M235.30 477.70 C235.40 477.92 235.73 478.53 235.90 479.00 C236.07 479.47 236.15 480.00 236.30 480.50 C236.45 481.00 236.57 481.50 236.80 482.00 C237.03 482.50 237.37 483.00 237.70 483.50 C238.03 484.00 238.50 484.53 238.80 485.00 C239.10 485.47 239.45 485.88 239.50 486.30 C239.55 486.72 239.43 487.13 239.10 487.50 C238.77 487.87 238.13 488.22 237.50 488.50 C236.87 488.78 235.67 489.08 235.30 489.20 C234.93 489.08 233.73 488.78 233.10 488.50 C232.47 488.22 231.83 487.87 231.50 487.50 C231.17 487.13 231.05 486.72 231.10 486.30 C231.15 485.88 231.50 485.47 231.80 485.00 C232.10 484.53 232.57 484.00 232.90 483.50 C233.23 483.00 233.57 482.50 233.80 482.00 C234.03 481.50 234.15 481.00 234.30 480.50 C234.45 480.00 234.53 479.47 234.70 479.00 C234.87 478.53 235.20 477.92 235.30 477.70 Z" fill="#8a85c6" stroke="#2e2a55" stroke-width="0.75"/>
<line x1="231.17" y1="486.5" x2="239.43" y2="486.5" stroke="#2e2a55" stroke-width="0.9"/>
<path d="M250.40 452.70 C250.55 453.08 251.10 454.28 251.30 455.00 C251.50 455.72 251.50 456.33 251.60 457.00 C251.70 457.67 251.88 458.33 251.90 459.00 C251.92 459.67 251.68 460.33 251.70 461.00 C251.72 461.67 251.85 462.33 252.00 463.00 C252.15 463.67 252.43 464.33 252.60 465.00 C252.77 465.67 252.90 466.42 253.00 467.00 C253.10 467.58 253.03 468.00 253.20 468.50 C253.37 469.00 253.73 469.50 254.00 470.00 C254.27 470.50 254.58 471.00 254.80 471.50 C255.02 472.00 255.20 472.50 255.30 473.00 C255.40 473.50 255.42 474.00 255.40 474.50 C255.38 475.00 255.32 475.50 255.20 476.00 C255.08 476.50 254.92 477.00 254.70 477.50 C254.48 478.00 254.20 478.50 253.90 479.00 C253.60 479.50 253.22 480.00 252.90 480.50 C252.58 481.00 252.25 481.42 252.00 482.00 C251.75 482.58 251.58 483.33 251.40 484.00 C251.22 484.67 251.07 485.50 250.90 486.00 C250.73 486.50 250.48 486.83 250.40 487.00 C250.32 486.83 250.07 486.50 249.90 486.00 C249.73 485.50 249.58 484.67 249.40 484.00 C249.22 483.33 249.05 482.58 248.80 482.00 C248.55 481.42 248.22 481.00 247.90 480.50 C247.58 480.00 247.20 479.50 246.90 479.00 C246.60 478.50 246.32 478.00 246.10 477.50 C245.88 477.00 245.72 476.50 245.60 476.00 C245.48 475.50 245.42 475.00 245.40 474.50 C245.38 474.00 245.40 473.50 245.50 473.00 C245.60 472.50 245.78 472.00 246.00 471.50 C246.22 471.00 246.53 470.50 246.80 470.00 C247.07 469.50 247.43 469.00 247.60 468.50 C247.77 468.00 247.70 467.58 247.80 467.00 C247.90 466.42 248.03 465.67 248.20 465.00 C248.37 464.33 248.65 463.67 248.80 463.00 C248.95 462.33 249.08 461.67 249.10 461.00 C249.12 460.33 248.88 459.67 248.90 459.00 C248.92 458.33 249.10 457.67 249.20 457.00 C249.30 456.33 249.30 455.72 249.50 455.00 C249.70 454.28 250.25 453.08 250.40 452.70 Z" fill="#f0992a" stroke="#5e3604" stroke-width="0.75"/>
<line x1="245.42" y1="474.2" x2="255.38" y2="474.2" stroke="#5e3604" stroke-width="0.9"/>
<path d="M265.20 431.20 C265.33 431.50 265.80 432.20 266.00 433.00 C266.20 433.80 266.28 435.00 266.40 436.00 C266.52 437.00 266.62 438.07 266.70 439.00 C266.78 439.93 266.93 440.77 266.90 441.60 C266.87 442.43 266.65 443.10 266.50 444.00 C266.35 444.90 266.10 446.12 266.00 447.00 C265.90 447.88 265.83 448.63 265.90 449.30 C265.97 449.97 266.18 450.38 266.40 451.00 C266.62 451.62 266.93 452.33 267.20 453.00 C267.47 453.67 267.75 454.33 268.00 455.00 C268.25 455.67 268.47 456.25 268.70 457.00 C268.93 457.75 269.20 458.67 269.40 459.50 C269.60 460.33 269.77 461.08 269.90 462.00 C270.03 462.92 270.15 464.00 270.20 465.00 C270.25 466.00 270.25 467.00 270.20 468.00 C270.15 469.00 270.05 470.00 269.90 471.00 C269.75 472.00 269.53 473.00 269.30 474.00 C269.07 475.00 268.77 476.00 268.50 477.00 C268.23 478.00 267.95 479.00 267.70 480.00 C267.45 481.00 267.22 482.00 267.00 483.00 C266.78 484.00 266.57 485.00 266.40 486.00 C266.23 487.00 266.12 488.17 266.00 489.00 C265.88 489.83 265.83 490.12 265.70 491.00 C265.57 491.88 265.28 493.75 265.20 494.30 C265.12 493.75 264.83 491.88 264.70 491.00 C264.57 490.12 264.52 489.83 264.40 489.00 C264.28 488.17 264.17 487.00 264.00 486.00 C263.83 485.00 263.62 484.00 263.40 483.00 C263.18 482.00 262.95 481.00 262.70 480.00 C262.45 479.00 262.17 478.00 261.90 477.00 C261.63 476.00 261.33 475.00 261.10 474.00 C260.87 473.00 260.65 472.00 260.50 471.00 C260.35 470.00 260.25 469.00 260.20 468.00 C260.15 467.00 260.15 466.00 260.20 465.00 C260.25 464.00 260.37 462.92 260.50 462.00 C260.63 461.08 260.80 460.33 261.00 459.50 C261.20 458.67 261.47 457.75 261.70 457.00 C261.93 456.25 262.15 455.67 262.40 455.00 C262.65 454.33 262.93 453.67 263.20 453.00 C263.47 452.33 263.78 451.62 264.00 451.00 C264.22 450.38 264.43 449.97 264.50 449.30 C264.57 448.63 264.50 447.88 264.40 447.00 C264.30 446.12 264.05 444.90 263.90 444.00 C263.75 443.10 263.53 442.43 263.50 441.60 C263.47 440.77 263.62 439.93 263.70 439.00 C263.78 438.07 263.88 437.00 264.00 436.00 C264.12 435.00 264.20 433.80 264.40 433.00 C264.60 432.20 265.07 431.50 265.20 431.20 Z" fill="#3aa9e0" stroke="#154a68" stroke-width="0.75"/>
<line x1="260.27" y1="468.7" x2="270.13" y2="468.7" stroke="#154a68" stroke-width="0.9"/>
<path d="M290.50 485.20 C290.63 485.33 290.67 485.75 291.30 486.00 C291.93 486.25 293.77 486.47 294.30 486.70 C294.83 486.93 295.13 487.22 294.50 487.40 C293.87 487.58 291.17 487.73 290.50 487.80 C289.83 487.73 287.13 487.58 286.50 487.40 C285.87 487.22 286.17 486.93 286.70 486.70 C287.23 486.47 289.07 486.25 289.70 486.00 C290.33 485.75 290.37 485.33 290.50 485.20 Z" fill="#5a5488" stroke="#2e2a55" stroke-width="0.75"/>
<path d="M304.90 475.10 C305.10 475.25 305.73 475.68 306.10 476.00 C306.47 476.32 306.80 476.67 307.10 477.00 C307.40 477.33 307.70 477.62 307.90 478.00 C308.10 478.38 308.22 478.88 308.30 479.30 C308.38 479.72 308.33 480.13 308.40 480.50 C308.47 480.87 308.53 481.17 308.70 481.50 C308.87 481.83 309.22 482.15 309.40 482.50 C309.58 482.85 309.77 483.18 309.80 483.60 C309.83 484.02 309.75 484.55 309.60 485.00 C309.45 485.45 309.18 485.88 308.90 486.30 C308.62 486.72 308.27 487.13 307.90 487.50 C307.53 487.87 307.20 488.18 306.70 488.50 C306.20 488.82 305.20 489.25 304.90 489.40 C304.60 489.25 303.60 488.82 303.10 488.50 C302.60 488.18 302.27 487.87 301.90 487.50 C301.53 487.13 301.18 486.72 300.90 486.30 C300.62 485.88 300.35 485.45 300.20 485.00 C300.05 484.55 299.97 484.02 300.00 483.60 C300.03 483.18 300.22 482.85 300.40 482.50 C300.58 482.15 300.93 481.83 301.10 481.50 C301.27 481.17 301.33 480.87 301.40 480.50 C301.47 480.13 301.42 479.72 301.50 479.30 C301.58 478.88 301.70 478.38 301.90 478.00 C302.10 477.62 302.40 477.33 302.70 477.00 C303.00 476.67 303.33 476.32 303.70 476.00 C304.07 475.68 304.70 475.25 304.90 475.10 Z" fill="#f0992a" stroke="#5e3604" stroke-width="0.75"/>
<line x1="300.00" y1="483.6" x2="309.80" y2="483.6" stroke="#5e3604" stroke-width="0.9"/>
<path d="M319.70 464.00 C319.83 464.33 320.30 465.25 320.50 466.00 C320.70 466.75 320.77 467.67 320.90 468.50 C321.03 469.33 321.22 470.25 321.30 471.00 C321.38 471.75 321.45 472.33 321.40 473.00 C321.35 473.67 321.12 474.30 321.00 475.00 C320.88 475.70 320.65 476.53 320.70 477.20 C320.75 477.87 321.03 478.37 321.30 479.00 C321.57 479.63 321.93 480.33 322.30 481.00 C322.67 481.67 323.17 482.42 323.50 483.00 C323.83 483.58 324.10 484.05 324.30 484.50 C324.50 484.95 324.67 485.28 324.70 485.70 C324.73 486.12 324.68 486.53 324.50 487.00 C324.32 487.47 323.97 488.00 323.60 488.50 C323.23 489.00 322.72 489.50 322.30 490.00 C321.88 490.50 321.42 491.00 321.10 491.50 C320.78 492.00 320.63 492.55 320.40 493.00 C320.17 493.45 319.82 494.00 319.70 494.20 C319.58 494.00 319.23 493.45 319.00 493.00 C318.77 492.55 318.62 492.00 318.30 491.50 C317.98 491.00 317.52 490.50 317.10 490.00 C316.68 489.50 316.17 489.00 315.80 488.50 C315.43 488.00 315.08 487.47 314.90 487.00 C314.72 486.53 314.67 486.12 314.70 485.70 C314.73 485.28 314.90 484.95 315.10 484.50 C315.30 484.05 315.57 483.58 315.90 483.00 C316.23 482.42 316.73 481.67 317.10 481.00 C317.47 480.33 317.83 479.63 318.10 479.00 C318.37 478.37 318.65 477.87 318.70 477.20 C318.75 476.53 318.52 475.70 318.40 475.00 C318.28 474.30 318.05 473.67 318.00 473.00 C317.95 472.33 318.02 471.75 318.10 471.00 C318.18 470.25 318.37 469.33 318.50 468.50 C318.63 467.67 318.70 466.75 318.90 466.00 C319.10 465.25 319.57 464.33 319.70 464.00 Z" fill="#3aa9e0" stroke="#154a68" stroke-width="0.75"/>
<line x1="314.87" y1="485.2" x2="324.53" y2="485.2" stroke="#154a68" stroke-width="0.9"/>
<line x1="171.00" y1="417.20" x2="171.00" y2="501.20" stroke="#1c1c1c" stroke-width="1.1" />
<line x1="168.40" y1="501.20" x2="171.00" y2="501.20" stroke="#1c1c1c" stroke-width="1.0" />
<text x="164.00" y="504.15" font-size="8.3" text-anchor="end" font-weight="normal" fill="#333" stroke="#333" stroke-width="0.08" textLength="14" lengthAdjust="spacingAndGlyphs" >−20</text>
<line x1="168.40" y1="487.20" x2="171.00" y2="487.20" stroke="#1c1c1c" stroke-width="1.0" />
<text x="164.00" y="490.15" font-size="8.3" text-anchor="end" font-weight="normal" fill="#333" stroke="#333" stroke-width="0.08" >0</text>
<line x1="168.40" y1="473.20" x2="171.00" y2="473.20" stroke="#1c1c1c" stroke-width="1.0" />
<text x="164.00" y="476.15" font-size="8.3" text-anchor="end" font-weight="normal" fill="#333" stroke="#333" stroke-width="0.08" >20</text>
<line x1="168.40" y1="459.20" x2="171.00" y2="459.20" stroke="#1c1c1c" stroke-width="1.0" />
<text x="164.00" y="462.15" font-size="8.3" text-anchor="end" font-weight="normal" fill="#333" stroke="#333" stroke-width="0.08" >40</text>
<line x1="168.40" y1="445.20" x2="171.00" y2="445.20" stroke="#1c1c1c" stroke-width="1.0" />
<text x="164.00" y="448.15" font-size="8.3" text-anchor="end" font-weight="normal" fill="#333" stroke="#333" stroke-width="0.08" >60</text>
<line x1="168.40" y1="431.20" x2="171.00" y2="431.20" stroke="#1c1c1c" stroke-width="1.0" />
<text x="164.00" y="434.15" font-size="8.3" text-anchor="end" font-weight="normal" fill="#333" stroke="#333" stroke-width="0.08" >80</text>
<line x1="168.40" y1="417.20" x2="171.00" y2="417.20" stroke="#1c1c1c" stroke-width="1.0" />
<text x="164.00" y="420.15" font-size="8.3" text-anchor="end" font-weight="normal" fill="#333" stroke="#333" stroke-width="0.08" textLength="13" lengthAdjust="spacingAndGlyphs" >100</text>
<line x1="170.50" y1="501.20" x2="330.00" y2="501.20" stroke="#1c1c1c" stroke-width="1.1" />
<line x1="195.40" y1="501.20" x2="195.40" y2="503.80" stroke="#1c1c1c" stroke-width="1.0" />
<line x1="250.50" y1="501.20" x2="250.50" y2="503.80" stroke="#1c1c1c" stroke-width="1.0" />
<line x1="304.90" y1="501.20" x2="304.90" y2="503.80" stroke="#1c1c1c" stroke-width="1.0" />
<line x1="196.00" y1="466.50" x2="210.60" y2="466.50" stroke="#444" stroke-width="0.9" />
<circle cx="203.30" cy="463.30" r="1.2" fill="#222"/>
<line x1="250.30" y1="423.00" x2="263.60" y2="423.00" stroke="#444" stroke-width="0.9" />
<circle cx="253.30" cy="419.80" r="1.2" fill="#222"/>
<circle cx="256.95" cy="419.80" r="1.2" fill="#222"/>
<circle cx="260.60" cy="419.80" r="1.2" fill="#222"/>
<line x1="303.00" y1="426.30" x2="316.80" y2="426.30" stroke="#444" stroke-width="0.9" />
<circle cx="308.07" cy="423.10" r="1.2" fill="#222"/>
<circle cx="311.72" cy="423.10" r="1.2" fill="#222"/>
<text x="144.50" y="458.30" font-size="9.0" text-anchor="middle" fill="#2a2a2a" stroke="#2a2a2a" stroke-width="0.08" transform="rotate(-90 144.50 458.30)" textLength="21.5" lengthAdjust="spacingAndGlyphs">% cTfh</text>
<rect x="339.5" y="444.50" width="9.4" height="4" rx="1" fill="#8a85c6" stroke="#2e2a55" stroke-width="0.7"/>
<text x="351.70" y="449.20" font-size="7.6" text-anchor="start" font-weight="normal" fill="#333" stroke="#333" stroke-width="0.08" >CD4<tspan font-size="5.32" dy="-2.89">+</tspan><tspan dy="3.15"> Naive</tspan></text>
<rect x="339.5" y="457.00" width="9.4" height="4" rx="1" fill="#f0992a" stroke="#5e3604" stroke-width="0.7"/>
<text x="351.70" y="461.70" font-size="7.6" text-anchor="start" font-weight="normal" fill="#333" stroke="#333" stroke-width="0.08" >CD4<tspan font-size="5.32" dy="-2.89">+</tspan><tspan dy="3.15"> Memory</tspan></text>
<rect x="339.5" y="469.90" width="9.4" height="4" rx="1" fill="#3aa9e0" stroke="#154a68" stroke-width="0.7"/>
<text x="351.70" y="474.60" font-size="7.6" text-anchor="start" font-weight="normal" fill="#333" stroke="#333" stroke-width="0.08" >CD4<tspan font-size="5.32" dy="-2.89">+</tspan><tspan dy="3.15"> TEMRA</tspan></text>
<text x="314.70" y="150.70" font-size="8.0" text-anchor="end" font-weight="normal" fill="#333" stroke="#333" stroke-width="0.08" textLength="12.5" lengthAdjust="spacingAndGlyphs" transform="rotate(-45 314.70 150.70)" >HC</text>
<text x="341.00" y="150.70" font-size="8.0" text-anchor="end" font-weight="normal" fill="#333" stroke="#333" stroke-width="0.08" textLength="33.8" lengthAdjust="spacingAndGlyphs" transform="rotate(-45 341.00 150.70)" >m-IC-Pre</text>
<text x="367.00" y="150.70" font-size="8.0" text-anchor="end" font-weight="normal" fill="#333" stroke="#333" stroke-width="0.08" textLength="38.0" lengthAdjust="spacingAndGlyphs" transform="rotate(-45 367.00 150.70)" >m-IC-Post</text>
<text x="452.30" y="150.10" font-size="8.0" text-anchor="end" font-weight="normal" fill="#333" stroke="#333" stroke-width="0.08" textLength="12.5" lengthAdjust="spacingAndGlyphs" transform="rotate(-45 452.30 150.10)" >HC</text>
<text x="476.10" y="150.10" font-size="8.0" text-anchor="end" font-weight="normal" fill="#333" stroke="#333" stroke-width="0.08" textLength="33.8" lengthAdjust="spacingAndGlyphs" transform="rotate(-45 476.10 150.10)" >m-IC-Pre</text>
<text x="499.50" y="150.10" font-size="8.0" text-anchor="end" font-weight="normal" fill="#333" stroke="#333" stroke-width="0.08" textLength="38.0" lengthAdjust="spacingAndGlyphs" transform="rotate(-45 499.50 150.10)" >m-IC-Post</text>
<text x="56.80" y="337.90" font-size="8.0" text-anchor="end" font-weight="normal" fill="#333" stroke="#333" stroke-width="0.08" textLength="12.5" lengthAdjust="spacingAndGlyphs" transform="rotate(-45 56.80 337.90)" >HC</text>
<text x="82.40" y="337.90" font-size="8.0" text-anchor="end" font-weight="normal" fill="#333" stroke="#333" stroke-width="0.08" textLength="33.8" lengthAdjust="spacingAndGlyphs" transform="rotate(-45 82.40 337.90)" >m-IC-Pre</text>
<text x="107.30" y="337.90" font-size="8.0" text-anchor="end" font-weight="normal" fill="#333" stroke="#333" stroke-width="0.08" textLength="38.0" lengthAdjust="spacingAndGlyphs" transform="rotate(-45 107.30 337.90)" >m-IC-Post</text>
<text x="190.00" y="337.30" font-size="8.0" text-anchor="end" font-weight="normal" fill="#333" stroke="#333" stroke-width="0.08" textLength="12.5" lengthAdjust="spacingAndGlyphs" transform="rotate(-45 190.00 337.30)" >HC</text>
<text x="213.80" y="337.30" font-size="8.0" text-anchor="end" font-weight="normal" fill="#333" stroke="#333" stroke-width="0.08" textLength="33.8" lengthAdjust="spacingAndGlyphs" transform="rotate(-45 213.80 337.30)" >m-IC-Pre</text>
<text x="237.70" y="337.30" font-size="8.0" text-anchor="end" font-weight="normal" fill="#333" stroke="#333" stroke-width="0.08" textLength="38.0" lengthAdjust="spacingAndGlyphs" transform="rotate(-45 237.70 337.30)" >m-IC-Post</text>
<text x="312.20" y="337.70" font-size="8.0" text-anchor="end" font-weight="normal" fill="#333" stroke="#333" stroke-width="0.08" textLength="12.5" lengthAdjust="spacingAndGlyphs" transform="rotate(-45 312.20 337.70)" >HC</text>
<text x="335.00" y="337.70" font-size="8.0" text-anchor="end" font-weight="normal" fill="#333" stroke="#333" stroke-width="0.08" textLength="33.8" lengthAdjust="spacingAndGlyphs" transform="rotate(-45 335.00 337.70)" >m-IC-Pre</text>
<text x="357.30" y="337.70" font-size="8.0" text-anchor="end" font-weight="normal" fill="#333" stroke="#333" stroke-width="0.08" textLength="38.0" lengthAdjust="spacingAndGlyphs" transform="rotate(-45 357.30 337.70)" >m-IC-Post</text>
<text x="451.00" y="335.20" font-size="8.0" text-anchor="end" font-weight="normal" fill="#333" stroke="#333" stroke-width="0.08" textLength="12.5" lengthAdjust="spacingAndGlyphs" transform="rotate(-45 451.00 335.20)" >HC</text>
<text x="472.90" y="335.20" font-size="8.0" text-anchor="end" font-weight="normal" fill="#333" stroke="#333" stroke-width="0.08" textLength="33.8" lengthAdjust="spacingAndGlyphs" transform="rotate(-45 472.90 335.20)" >m-IC-Pre</text>
<text x="494.50" y="335.20" font-size="8.0" text-anchor="end" font-weight="normal" fill="#333" stroke="#333" stroke-width="0.08" textLength="38.0" lengthAdjust="spacingAndGlyphs" transform="rotate(-45 494.50 335.20)" >m-IC-Post</text>
<text x="55.50" y="512.50" font-size="8.0" text-anchor="end" font-weight="normal" fill="#333" stroke="#333" stroke-width="0.08" textLength="12.5" lengthAdjust="spacingAndGlyphs" transform="rotate(-45 55.50 512.50)" >HC</text>
<text x="77.40" y="512.50" font-size="8.0" text-anchor="end" font-weight="normal" fill="#333" stroke="#333" stroke-width="0.08" textLength="33.8" lengthAdjust="spacingAndGlyphs" transform="rotate(-45 77.40 512.50)" >m-IC-Pre</text>
<text x="99.40" y="512.50" font-size="8.0" text-anchor="end" font-weight="normal" fill="#333" stroke="#333" stroke-width="0.08" textLength="38.0" lengthAdjust="spacingAndGlyphs" transform="rotate(-45 99.40 512.50)" >m-IC-Post</text>
<text x="198.40" y="511.70" font-size="8.0" text-anchor="end" font-weight="normal" fill="#333" stroke="#333" stroke-width="0.08" textLength="12.5" lengthAdjust="spacingAndGlyphs" transform="rotate(-45 198.40 511.70)" >HC</text>
<text x="253.50" y="511.70" font-size="8.0" text-anchor="end" font-weight="normal" fill="#333" stroke="#333" stroke-width="0.08" textLength="33.8" lengthAdjust="spacingAndGlyphs" transform="rotate(-45 253.50 511.70)" >m-IC-Pre</text>
<text x="307.90" y="511.70" font-size="8.0" text-anchor="end" font-weight="normal" fill="#333" stroke="#333" stroke-width="0.08" textLength="38.0" lengthAdjust="spacingAndGlyphs" transform="rotate(-45 307.90 511.70)" >m-IC-Post</text>
</g></svg>
</body></html>
